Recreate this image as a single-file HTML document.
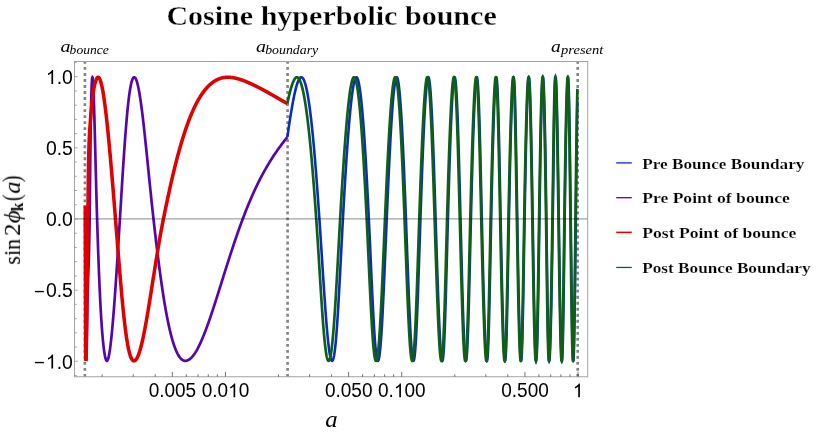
<!DOCTYPE html>
<html><head><meta charset="utf-8"><title>Cosine hyperbolic bounce</title>
<style>
html,body{margin:0;padding:0;background:#fff;}
body{width:817px;height:436px;overflow:hidden;font-family:"Liberation Sans",sans-serif;}
svg{display:block;}
text{fill:#000;}
</style></head>
<body>
<svg width="817" height="436" viewBox="0 0 817 436">
<defs><clipPath id="clipf"><rect x="74.5" y="61.5" width="513.20" height="315.25"/></clipPath></defs>
<rect width="817" height="436" fill="#ffffff"/>
<path d="M84.9,61.0V376.75" stroke="#828282" stroke-width="2.6" stroke-dasharray="2.85 3.17" fill="none"/><path d="M287.6,61.0V376.75" stroke="#828282" stroke-width="2.6" stroke-dasharray="2.85 3.17" fill="none"/><path d="M577.7,61.0V376.75" stroke="#828282" stroke-width="2.6" stroke-dasharray="2.85 3.17" fill="none"/>

<g fill="none" stroke-linejoin="miter" stroke-miterlimit="4" stroke-linecap="butt" clip-path="url(#clipf)">
<path d="M287.35,137.09L287.60,135.35L287.85,133.61L288.10,131.89L288.35,130.19L288.60,128.49L288.85,126.81L289.10,125.14L289.35,123.49L289.60,121.85L289.85,120.23L290.10,118.63L290.35,117.05L290.60,115.48L290.85,113.93L291.10,112.41L291.35,110.91L291.60,109.42L291.85,107.96L292.10,106.53L292.35,105.12L292.60,103.73L292.85,102.37L293.10,101.04L293.35,99.74L293.60,98.46L293.85,97.21L294.10,95.99L294.35,94.81L294.60,93.65L294.85,92.53L295.10,91.44L295.35,90.39L295.60,89.37L295.85,88.38L296.10,87.43L296.35,86.52L296.60,85.65L296.85,84.81L297.10,84.02L297.35,83.27L297.60,82.55L297.85,81.88L298.10,81.25L298.35,80.67L298.60,80.12L298.85,79.63L299.10,79.17L299.35,78.77L299.60,78.41L299.85,78.10L300.10,77.83L300.35,77.62L300.60,77.45L300.85,77.33L301.10,77.27L301.35,77.25L301.60,77.29L301.85,77.37L302.10,77.51L302.35,77.71L302.60,77.95L302.85,78.25L303.10,78.60L303.35,79.00L303.60,79.46L303.85,79.97L304.10,80.54L304.35,81.16L304.60,81.83L304.85,82.56L305.10,83.34L305.35,84.18L305.60,85.08L305.85,86.03L306.10,87.04L306.35,88.10L306.60,89.22L306.85,90.40L307.10,91.63L307.35,92.92L307.60,94.27L307.85,95.67L308.10,97.13L308.35,98.65L308.60,100.23L308.85,101.86L309.10,103.55L309.35,105.30L309.60,107.10L309.85,108.97L310.10,110.89L310.35,112.86L310.60,114.90L310.85,116.99L311.10,119.14L311.35,121.34L311.60,123.60L311.85,125.92L312.10,128.29L312.35,130.72L312.60,133.21L312.85,135.74L313.10,138.34L313.35,140.98L313.60,143.68L313.85,146.43L314.10,149.24L314.35,152.09L314.60,154.99L314.85,157.95L315.10,160.95L315.35,164.00L315.60,167.10L315.85,170.24L316.10,173.43L316.35,176.66L316.60,179.94L316.85,183.25L317.10,186.61L317.35,190.00L317.60,193.43L317.85,196.89L318.10,200.39L318.35,203.92L318.60,207.48L318.85,211.07L319.10,214.68L319.35,218.32L319.60,221.99L319.85,225.69L320.10,229.44L320.35,233.21L320.60,237.02L320.85,240.85L321.10,244.71L321.35,248.58L321.60,252.46L321.85,256.35L322.10,260.24L322.35,264.14L322.60,268.03L322.85,271.90L323.10,275.76L323.35,279.60L323.60,283.41L323.85,287.19L324.10,290.93L324.35,294.62L324.60,298.27L324.85,301.87L325.10,305.40L325.35,308.87L325.60,312.27L325.85,315.60L326.10,318.84L326.35,322.00L326.60,325.06L326.85,328.03L327.10,330.90L327.35,333.66L327.60,336.31L327.85,338.85L328.10,341.26L328.35,343.55L328.60,345.72L328.85,347.75L329.10,349.64L329.35,351.40L329.60,353.02L329.85,354.49L330.10,355.81L330.35,356.98L330.60,358.00L330.85,358.87L331.10,359.58L331.35,360.14L331.60,360.53L331.85,360.77L332.10,360.85L332.35,360.77L332.60,360.52L332.85,360.11L333.10,359.52L333.35,358.74L333.60,357.79L333.85,356.64L334.10,355.31L334.35,353.79L334.60,352.08L334.85,350.17L335.10,348.07L335.35,345.78L335.60,343.31L335.85,340.65L336.10,337.80L336.35,334.78L336.60,331.59L336.85,328.23L337.10,324.71L337.35,321.03L337.60,317.21L337.85,313.25L338.10,309.15L338.35,304.94L338.60,300.62L338.85,296.19L339.10,291.67L339.35,287.07L339.60,282.40L339.85,277.67L340.10,272.88L340.35,268.06L340.60,263.21L340.85,258.34L341.10,253.46L341.35,248.59L341.60,243.73L341.85,238.89L342.10,234.09L342.35,229.33L342.60,224.62L342.85,219.97L343.10,215.38L343.35,210.84L343.60,206.34L343.85,201.89L344.10,197.50L344.35,193.16L344.60,188.88L344.85,184.66L345.10,180.51L345.35,176.41L345.60,172.39L345.85,168.43L346.10,164.54L346.35,160.71L346.60,156.96L346.85,153.29L347.10,149.68L347.35,146.15L347.60,142.70L347.85,139.32L348.10,136.02L348.35,132.80L348.60,129.66L348.85,126.59L349.10,123.61L349.35,120.71L349.60,117.89L349.85,115.15L350.10,112.50L350.35,109.94L350.60,107.45L350.85,105.06L351.10,102.76L351.35,100.54L351.60,98.41L351.85,96.38L352.10,94.44L352.35,92.59L352.60,90.84L352.85,89.18L353.10,87.62L353.35,86.17L353.60,84.82L353.85,83.57L354.10,82.42L354.35,81.39L354.60,80.46L354.85,79.65L355.10,78.95L355.35,78.37L355.60,77.90L355.85,77.56L356.10,77.34L356.35,77.25L356.60,77.29L356.85,77.46L357.10,77.76L357.35,78.18L357.60,78.73L357.85,79.40L358.10,80.19L358.35,81.11L358.60,82.15L358.85,83.31L359.10,84.59L359.35,85.98L359.60,87.50L359.85,89.13L360.10,90.88L360.35,92.74L360.60,94.72L360.85,96.81L361.10,99.02L361.35,101.34L361.60,103.77L361.85,106.32L362.10,108.97L362.35,111.74L362.60,114.62L362.85,117.61L363.10,120.71L363.35,123.92L363.60,127.23L363.85,130.66L364.10,134.19L364.35,137.82L364.60,141.57L364.85,145.41L365.10,149.36L365.35,153.40L365.60,157.55L365.85,161.79L366.10,166.13L366.35,170.56L366.60,175.09L366.85,179.70L367.10,184.40L367.35,189.18L367.60,194.04L367.85,198.97L368.10,203.98L368.35,209.05L368.60,214.19L368.85,219.38L369.10,224.65L369.35,230.00L369.60,235.42L369.85,240.90L370.10,246.42L370.35,251.98L370.60,257.55L370.85,263.12L371.10,268.68L371.35,274.21L371.60,279.70L371.85,285.12L372.10,290.47L372.35,295.72L372.60,300.87L372.85,305.89L373.10,310.76L373.35,315.48L373.60,320.03L373.85,324.40L374.10,328.56L374.35,332.52L374.60,336.25L374.85,339.74L375.10,342.99L375.35,345.99L375.60,348.73L375.85,351.19L376.10,353.39L376.35,355.30L376.60,356.93L376.85,358.28L377.10,359.34L377.35,360.12L377.60,360.62L377.85,360.84L378.10,360.78L378.35,360.45L378.60,359.83L378.85,358.94L379.10,357.75L379.35,356.29L379.60,354.54L379.85,352.51L380.10,350.20L380.35,347.61L380.60,344.76L380.85,341.64L381.10,338.26L381.35,334.63L381.60,330.76L381.85,326.65L382.10,322.33L382.35,317.79L382.60,313.06L382.85,308.13L383.10,303.04L383.35,297.79L383.60,292.39L383.85,286.86L384.10,281.22L384.35,275.47L384.60,269.64L384.85,263.74L385.10,257.78L385.35,251.78L385.60,245.76L385.85,239.73L386.10,233.70L386.35,227.69L386.60,221.71L386.85,215.78L387.10,209.90L387.35,204.09L387.60,198.34L387.85,192.66L388.10,187.06L388.35,181.55L388.60,176.14L388.85,170.82L389.10,165.60L389.35,160.49L389.60,155.50L389.85,150.62L390.10,145.86L390.35,141.22L390.60,136.72L390.85,132.34L391.10,128.11L391.35,124.01L391.60,120.06L391.85,116.25L392.10,112.60L392.35,109.10L392.60,105.76L392.85,102.59L393.10,99.58L393.35,96.74L393.60,94.07L393.85,91.59L394.10,89.28L394.35,87.16L394.60,85.24L394.85,83.51L395.10,81.98L395.35,80.65L395.60,79.54L395.85,78.64L396.10,77.96L396.35,77.50L396.60,77.28L396.85,77.28L397.10,77.53L397.35,78.01L397.60,78.72L397.85,79.67L398.10,80.85L398.35,82.25L398.60,83.89L398.85,85.75L399.10,87.84L399.35,90.15L399.60,92.68L399.85,95.43L400.10,98.40L400.35,101.58L400.60,104.97L400.85,108.56L401.10,112.37L401.35,116.37L401.60,120.57L401.85,124.96L402.10,129.54L402.35,134.31L402.60,139.25L402.85,144.37L403.10,149.65L403.35,155.10L403.60,160.71L403.85,166.46L404.10,172.35L404.35,178.38L404.60,184.53L404.85,190.80L405.10,197.17L405.35,203.64L405.60,210.19L405.85,216.81L406.10,223.49L406.35,230.24L406.60,237.04L406.85,243.86L407.10,250.69L407.35,257.50L407.60,264.28L407.85,271.00L408.10,277.63L408.35,284.16L408.60,290.56L408.85,296.81L409.10,302.89L409.35,308.77L409.60,314.43L409.85,319.85L410.10,325.01L410.35,329.88L410.60,334.46L410.85,338.72L411.10,342.64L411.35,346.21L411.60,349.42L411.85,352.25L412.10,354.69L412.35,356.74L412.60,358.37L412.85,359.60L413.10,360.41L413.35,360.81L413.60,360.79L413.85,360.34L414.10,359.46L414.35,358.14L414.60,356.37L414.85,354.15L415.10,351.49L415.35,348.38L415.60,344.83L415.85,340.86L416.10,336.47L416.35,331.69L416.60,326.52L416.85,320.99L417.10,315.12L417.35,308.95L417.60,302.48L417.85,295.76L418.10,288.81L418.35,281.67L418.60,274.36L418.85,266.93L419.10,259.39L419.35,251.79L419.60,244.15L419.85,236.51L420.10,228.90L420.35,221.35L420.60,213.88L420.85,206.50L421.10,199.22L421.35,192.06L421.60,185.04L421.85,178.15L422.10,171.42L422.35,164.85L422.60,158.45L422.85,152.24L423.10,146.21L423.35,140.39L423.60,134.76L423.85,129.35L424.10,124.16L424.35,119.20L424.60,114.48L424.85,109.99L425.10,105.76L425.35,101.78L425.60,98.07L425.85,94.63L426.10,91.48L426.35,88.61L426.60,86.04L426.85,83.78L427.10,81.84L427.35,80.23L427.60,78.95L427.85,78.02L428.10,77.45L428.35,77.25L428.60,77.43L428.85,77.99L429.10,78.93L429.35,80.26L429.60,81.98L429.85,84.09L430.10,86.58L430.35,89.45L430.60,92.69L430.85,96.31L431.10,100.29L431.35,104.62L431.60,109.30L431.85,114.31L432.10,119.64L432.35,125.29L432.60,131.22L432.85,137.44L433.10,143.92L433.35,150.64L433.60,157.59L433.85,164.75L434.10,172.09L434.35,179.59L434.60,187.24L434.85,195.00L435.10,202.86L435.35,210.79L435.60,218.76L435.85,226.75L436.10,234.70L436.35,242.60L436.60,250.43L436.85,258.16L437.10,265.79L437.35,273.27L437.60,280.60L437.85,287.74L438.10,294.69L438.35,301.42L438.60,307.90L438.85,314.11L439.10,320.04L439.35,325.66L439.60,330.94L439.85,335.87L440.10,340.43L440.35,344.58L440.60,348.31L440.85,351.60L441.10,354.43L441.35,356.77L441.60,358.60L441.85,359.90L442.10,360.65L442.35,360.84L442.60,360.44L442.85,359.41L443.10,357.71L443.35,355.33L443.60,352.25L443.85,348.47L444.10,343.98L444.35,338.81L444.60,332.97L444.85,326.50L445.10,319.44L445.35,311.85L445.60,303.78L445.85,295.29L446.10,286.46L446.35,277.35L446.60,268.04L446.85,258.61L447.10,249.13L447.35,239.67L447.60,230.31L447.85,221.11L448.10,212.10L448.35,203.28L448.60,194.66L448.85,186.26L449.10,178.09L449.35,170.16L449.60,162.50L449.85,155.10L450.10,147.97L450.35,141.13L450.60,134.58L450.85,128.33L451.10,122.38L451.35,116.74L451.60,111.43L451.85,106.45L452.10,101.80L452.35,97.51L452.60,93.58L452.85,90.03L453.10,86.88L453.35,84.13L453.60,81.81L453.85,79.94L454.10,78.55L454.35,77.64L454.60,77.26L454.85,77.43L455.10,78.15L455.35,79.45L455.60,81.34L455.85,83.81L456.10,86.87L456.35,90.51L456.60,94.73L456.85,99.52L457.10,104.87L457.35,110.76L457.60,117.17L457.85,124.07L458.10,131.44L458.35,139.25L458.60,147.46L458.85,156.03L459.10,164.93L459.35,174.10L459.60,183.52L459.85,193.12L460.10,202.87L460.35,212.71L460.60,222.59L460.85,232.49L461.10,242.35L461.35,252.14L461.60,261.80L461.85,271.28L462.10,280.52L462.35,289.49L462.60,298.13L462.85,306.39L463.10,314.23L463.35,321.60L463.60,328.45L463.85,334.74L464.10,340.44L464.35,345.50L464.60,349.89L464.85,353.58L465.10,356.54L465.35,358.75L465.60,360.18L465.85,360.82L466.10,360.65L466.35,359.64L466.60,357.78L466.85,355.04L467.10,351.42L467.35,346.93L467.60,341.59L467.85,335.43L468.10,328.49L468.35,320.83L468.60,312.52L468.85,303.63L469.10,294.23L469.35,284.42L469.60,274.28L469.85,263.91L470.10,253.40L470.35,242.83L470.60,232.30L470.85,221.89L471.10,211.67L471.35,201.68L471.60,191.95L471.85,182.49L472.10,173.33L472.35,164.49L472.60,155.99L472.85,147.84L473.10,140.04L473.35,132.62L473.60,125.59L473.85,118.95L474.10,112.73L474.35,106.93L474.60,101.58L474.85,96.69L475.10,92.28L475.35,88.38L475.53,85.85L475.63,84.67L475.72,83.58L475.81,82.58L475.91,81.66L476.00,80.82L476.09,80.08L476.18,79.42L476.27,78.84L476.36,78.36L476.45,77.96L476.54,77.65L476.62,77.43L476.71,77.29L476.80,77.25L476.89,77.29L476.97,77.43L477.06,77.65L477.14,77.96L477.23,78.36L477.31,78.84L477.39,79.42L477.48,80.08L477.56,80.82L477.64,81.66L477.72,82.58L477.81,83.58L477.89,84.67L477.97,85.85L478.10,87.92L478.35,92.51L478.60,97.91L478.85,104.10L479.10,111.04L479.35,118.71L479.60,127.03L479.85,135.96L480.10,145.43L480.35,155.37L480.60,165.69L480.85,176.32L481.10,187.17L481.35,198.16L481.60,209.20L481.85,220.20L482.10,231.09L482.35,241.80L482.60,252.29L482.85,262.52L483.10,272.45L483.35,282.06L483.60,291.29L483.85,300.13L484.10,308.52L484.35,316.45L484.60,323.87L484.85,330.74L485.10,337.02L485.35,342.68L485.60,347.66L485.85,351.93L486.10,355.42L486.35,358.10L486.60,359.90L486.79,360.65L486.95,360.85L487.10,360.65L487.35,359.48L487.60,357.15L487.85,353.61L488.10,348.83L488.35,342.81L488.60,335.60L488.85,327.24L489.10,317.84L489.35,307.51L489.60,296.40L489.85,284.67L490.10,272.48L490.35,260.02L490.60,247.46L490.85,234.98L491.10,222.74L491.35,210.85L491.60,199.30L491.85,188.14L492.10,177.38L492.35,167.07L492.60,157.21L492.85,147.83L493.10,138.94L493.35,130.55L493.60,122.68L493.85,115.34L494.10,108.55L494.35,102.34L494.60,96.71L494.85,91.72L495.10,87.38L495.20,85.85L495.28,84.67L495.36,83.58L495.44,82.58L495.52,81.66L495.60,80.82L495.68,80.08L495.76,79.42L495.84,78.84L495.92,78.36L496.00,77.96L496.07,77.65L496.15,77.43L496.23,77.29L496.30,77.25L496.38,77.29L496.45,77.43L496.52,77.65L496.60,77.96L496.67,78.36L496.74,78.84L496.82,79.42L496.89,80.08L496.96,80.82L497.03,81.66L497.10,82.58L497.17,83.58L497.24,84.67L497.31,85.85L497.35,86.51L497.60,91.58L497.85,97.75L498.10,104.99L498.35,113.25L498.60,122.46L498.85,132.53L499.10,143.36L499.35,154.84L499.60,166.85L499.85,179.26L500.10,191.92L500.35,204.72L500.60,217.50L500.85,230.16L501.10,242.61L501.35,254.79L501.60,266.62L501.85,278.04L502.10,288.98L502.35,299.38L502.60,309.19L502.85,318.33L503.10,326.76L503.35,334.40L503.60,341.21L503.85,347.11L504.10,352.04L504.35,355.95L504.60,358.76L504.85,360.41L504.88,360.53L505.06,360.85L505.24,360.53L505.35,359.96L505.60,357.69L505.85,353.97L506.10,348.76L506.35,342.08L506.60,333.99L506.85,324.58L507.10,313.99L507.35,302.38L507.60,289.94L507.85,276.87L508.10,263.41L508.35,249.76L508.60,236.16L508.85,222.79L509.10,209.83L509.35,197.33L509.60,185.34L509.85,173.87L510.10,162.96L510.35,152.60L510.60,142.80L510.85,133.58L511.10,124.94L511.35,116.89L511.60,109.45L511.85,102.65L512.10,96.52L512.35,91.11L512.60,86.47L512.85,82.67L513.10,79.80L513.35,77.96L513.50,77.38L513.62,77.25L513.73,77.38L513.85,77.81L514.10,79.77L514.35,83.24L514.60,88.29L514.85,94.94L515.10,103.18L515.35,112.94L515.60,124.08L515.85,136.46L516.10,149.88L516.35,164.12L516.60,178.91L516.85,194.02L517.10,209.17L517.35,224.13L517.60,238.84L517.85,253.19L518.10,267.06L518.35,280.35L518.60,292.95L518.85,304.76L519.10,315.70L519.35,325.66L519.60,334.55L519.85,342.30L520.10,348.82L520.26,352.25L520.32,353.43L520.38,354.52L520.44,355.52L520.50,356.44L520.56,357.28L520.62,358.02L520.68,358.68L520.74,359.26L520.80,359.74L520.86,360.14L520.91,360.45L520.97,360.67L521.03,360.81L521.09,360.85L521.15,360.81L521.20,360.67L521.26,360.45L521.32,360.14L521.38,359.74L521.43,359.26L521.49,358.68L521.54,358.02L521.60,357.28L521.65,356.44L521.71,355.52L521.76,354.52L521.82,353.43L521.87,352.25L522.10,346.47L522.35,338.38L522.60,328.64L522.85,317.41L523.10,304.88L523.35,291.31L523.60,276.97L523.85,262.15L524.10,247.13L524.35,232.21L524.60,217.63L524.85,203.51L525.10,189.90L525.35,176.88L525.60,164.49L525.85,152.77L526.10,141.77L526.35,131.50L526.60,122.01L526.85,113.31L527.10,105.43L527.35,98.41L527.60,92.29L527.85,87.13L528.10,82.97L528.35,79.88L528.60,77.95L528.70,77.53L528.86,77.25L529.02,77.53L529.10,77.87L529.35,79.85L529.60,83.20L529.85,87.92L530.10,93.99L530.35,101.39L530.60,110.05L530.85,119.92L531.10,130.91L531.35,142.93L531.60,155.85L531.85,169.56L532.10,183.90L532.35,198.73L532.60,213.87L532.85,229.18L533.10,244.52L533.35,259.69L533.60,274.49L533.85,288.72L534.10,302.17L534.35,314.64L534.60,325.94L534.85,335.89L535.10,344.35L535.35,351.16L535.60,356.23L535.85,359.47L535.96,360.30L536.15,360.85L536.34,360.30L536.60,357.69L536.85,353.17L537.10,346.69L537.35,338.32L537.60,328.18L537.85,316.43L538.10,303.26L538.35,288.90L538.60,273.60L538.85,257.62L539.10,241.25L539.35,224.75L539.60,208.38L539.85,192.31L540.10,176.72L540.35,161.78L540.60,147.65L540.85,134.47L541.10,122.38L541.35,111.50L541.60,101.95L541.85,93.83L542.10,87.23L542.35,82.24L542.60,78.93L542.79,77.60L542.94,77.25L543.10,77.60L543.35,79.62L543.60,83.34L543.85,88.72L544.10,95.68L544.35,104.17L544.60,114.12L544.85,125.45L545.10,138.08L545.35,151.93L545.60,166.88L545.85,182.83L546.10,199.60L546.35,217.04L546.60,235.10L546.85,253.68L547.10,272.23L547.35,290.16L547.60,306.92L547.85,321.97L548.10,334.87L548.35,345.28L548.60,353.03L548.85,358.07L549.11,360.56L549.23,360.85L549.37,360.56L549.60,358.66L549.85,354.87L550.10,349.45L550.35,342.57L550.60,334.36L550.85,324.91L551.10,314.31L551.35,302.60L551.60,289.82L551.85,276.01L552.10,261.19L552.35,245.42L552.60,228.77L552.85,211.34L553.10,193.32L553.35,175.15L553.60,157.31L553.85,140.29L554.10,124.60L554.35,110.69L554.60,98.92L554.85,89.58L555.10,82.85L555.35,78.76L555.48,77.69L555.63,77.25L555.78,77.69L555.85,78.18L556.10,81.37L556.35,86.70L556.60,94.03L556.85,103.19L557.10,114.03L557.35,126.39L557.60,140.09L557.85,154.97L558.10,170.83L558.35,187.48L558.60,204.73L558.85,222.35L559.10,239.89L559.35,257.04L559.60,273.57L559.85,289.26L560.10,303.90L560.35,317.30L560.60,329.26L560.85,339.57L561.10,348.06L561.35,354.54L561.60,358.82L561.80,360.54L561.92,360.85L562.04,360.54L562.10,360.17L562.35,356.86L562.60,350.68L562.85,341.60L563.10,329.79L563.35,315.53L563.60,299.24L563.85,281.43L564.10,262.67L564.35,243.57L564.60,224.69L564.85,206.51L565.10,189.20L565.35,172.87L565.60,157.60L565.85,143.45L566.10,130.45L566.35,118.64L566.60,108.09L566.85,98.86L567.10,91.05L567.35,84.80L567.60,80.30L567.85,77.74L567.92,77.41L568.01,77.25L568.10,77.41L568.35,79.52L568.60,84.29L568.85,91.79L569.10,102.01L569.35,114.84L569.60,130.05L569.85,147.34L570.10,166.30L570.35,186.47L570.60,207.34L570.85,228.40L571.10,249.39L571.35,269.85L571.60,289.29L571.85,307.21L572.10,323.15L572.35,336.70L572.60,347.48L572.74,352.25L572.78,353.43L572.82,354.52L572.86,355.52L572.90,356.44L572.94,357.28L572.98,358.02L573.02,358.68L573.06,359.26L573.10,359.74L573.14,360.14L573.19,360.45L573.23,360.67L573.27,360.81L573.31,360.85L573.35,360.81L573.39,360.67L573.43,360.45L573.47,360.14L573.51,359.74L573.55,359.26L573.59,358.68L573.63,358.02L573.67,357.28L573.71,356.44L573.75,355.52L573.79,354.52L573.83,353.43L573.87,352.25L574.10,343.65L574.35,331.44L574.60,316.41L574.85,298.95L575.10,279.52L575.35,258.66L575.60,236.94L575.85,214.91L576.10,193.10L576.35,171.98L576.60,152.05L576.85,133.75L577.10,117.50L577.35,103.65L577.40,101.19" stroke="#082cc4" stroke-width="2.6"/>
<path d="M86.30,360.85L86.40,360.09L86.50,357.85L86.60,354.29L86.70,349.58L86.80,343.93L86.90,337.59L87.00,330.84L87.10,323.93L87.20,317.13L87.30,310.70L87.40,304.88L87.50,299.88L87.60,295.55L87.70,291.58L87.80,287.96L87.90,284.64L88.00,281.58L88.10,278.72L88.20,276.01L88.30,273.39L88.40,270.81L88.50,268.20L88.60,265.48L88.70,262.61L88.80,259.50L88.90,256.09L89.00,252.30L89.10,248.11L89.20,243.69L89.30,238.99L89.40,233.92L89.50,228.39L89.60,222.32L89.70,215.49L89.80,207.29L89.90,197.99L90.00,188.04L90.10,177.87L90.20,167.94L90.30,158.62L90.40,150.28L90.50,142.77L90.60,135.75L90.70,129.20L90.80,123.10L90.90,117.42L91.00,112.07L91.10,107.05L91.20,102.39L91.30,98.12L91.40,94.24L91.50,90.78L91.60,87.72L91.70,85.09L91.80,82.86L91.90,81.04L92.00,79.60L92.10,78.53L92.20,77.80L92.30,77.38L92.40,77.25L92.50,77.37L92.60,77.75L92.70,78.36L92.80,79.20L92.90,80.27L93.00,81.56L93.10,83.07L93.20,84.78L93.30,86.68L93.40,88.78L93.50,91.05L93.60,93.49L93.70,96.10L93.80,98.86L93.90,101.76L94.00,104.79L94.10,107.95L94.20,111.23L94.30,114.61L94.40,118.09L94.50,121.65L94.60,125.29L94.70,129.01L94.80,132.78L94.90,136.60L95.00,140.47L95.10,144.37L95.20,148.29L95.30,152.24L95.40,156.19L95.50,160.15L95.60,164.11L95.70,168.06L95.80,171.98L95.90,175.89L96.00,179.76L96.10,183.60L96.20,187.41L96.30,191.16L96.40,194.86L96.50,198.51L96.60,202.11L96.70,205.63L96.80,209.10L96.90,212.49L97.00,215.81L97.10,219.05L97.20,222.24L97.30,225.39L97.40,228.51L97.50,231.60L97.60,234.65L97.70,237.66L97.80,240.64L97.90,243.58L98.00,246.48L98.10,249.34L98.20,252.15L98.30,254.93L98.40,257.67L98.50,260.37L98.60,263.02L98.70,265.64L98.80,268.21L98.90,270.74L99.00,273.23L99.10,275.68L99.20,278.08L99.30,280.45L99.40,282.77L99.50,285.05L99.60,287.29L99.70,289.49L99.80,291.65L99.90,293.77L100.00,295.85L100.10,297.88L100.20,299.88L100.30,301.84L100.40,303.76L100.50,305.64L100.60,307.48L100.70,309.28L100.80,311.05L100.90,312.78L101.00,314.47L101.10,316.13L101.20,317.74L101.30,319.33L101.40,320.88L101.50,322.39L101.60,323.87L101.70,325.31L101.80,326.72L101.90,328.10L102.00,329.45L102.10,330.76L102.20,332.04L102.30,333.29L102.40,334.50L102.50,335.69L102.60,336.84L102.70,337.97L102.80,339.06L102.90,340.13L103.00,341.16L103.10,342.17L103.20,343.15L103.30,344.10L103.40,345.02L103.50,345.92L103.60,346.78L103.70,347.62L103.80,348.44L103.90,349.22L104.00,349.98L104.10,350.71L104.20,351.42L104.30,352.10L104.40,352.75L104.50,353.38L104.60,353.98L104.70,354.56L104.80,355.11L104.90,355.64L105.00,356.14L105.10,356.62L105.20,357.07L105.30,357.50L105.40,357.90L105.50,358.27L105.60,358.62L105.70,358.95L105.80,359.25L105.90,359.52L106.00,359.77L106.10,360.00L106.20,360.20L106.30,360.37L106.40,360.51L106.50,360.63L106.60,360.73L106.70,360.80L106.80,360.84L106.90,360.85L107.00,360.84L107.10,360.80L107.20,360.73L107.30,360.63L107.40,360.51L107.50,360.37L107.60,360.20L107.70,360.00L107.80,359.78L107.90,359.53L108.00,359.26L108.10,358.97L108.20,358.65L108.30,358.30L108.40,357.94L108.50,357.55L108.60,357.13L108.70,356.70L108.80,356.24L108.90,355.76L109.00,355.26L109.10,354.74L109.20,354.19L109.30,353.63L109.40,353.04L109.50,352.43L109.60,351.81L109.70,351.16L109.80,350.49L109.90,349.81L110.00,349.10L110.10,348.38L110.20,347.64L110.30,346.88L110.40,346.10L110.50,345.30L110.60,344.49L110.70,343.65L110.80,342.80L110.90,341.94L111.00,341.05L111.10,340.15L111.20,339.24L111.30,338.31L111.40,337.36L111.50,336.39L111.60,335.42L111.70,334.42L111.80,333.41L111.90,332.39L112.00,331.35L112.10,330.30L112.20,329.23L112.30,328.15L112.40,327.06L112.50,325.95L112.60,324.83L112.70,323.69L112.80,322.55L112.90,321.39L113.00,320.22L113.10,319.03L113.20,317.84L113.30,316.63L113.40,315.41L113.50,314.18L113.60,312.94L113.70,311.68L113.80,310.42L113.90,309.14L114.00,307.86L114.10,306.56L114.20,305.26L114.30,303.94L114.40,302.61L114.50,301.28L114.60,299.93L114.70,298.58L114.80,297.21L114.90,295.84L115.00,294.46L115.10,293.07L115.20,291.67L115.30,290.26L115.40,288.85L115.50,287.42L115.60,285.99L115.70,284.55L115.80,283.10L115.90,281.65L116.00,280.19L116.10,278.72L116.20,277.24L116.30,275.76L116.40,274.27L116.50,272.77L116.60,271.27L116.70,269.76L116.80,268.25L116.90,266.73L117.00,265.20L117.10,263.67L117.20,262.13L117.30,260.59L117.40,259.04L117.50,257.49L117.60,255.93L117.70,254.36L117.80,252.80L117.90,251.22L118.00,249.65L118.10,248.07L118.20,246.48L118.30,244.89L118.40,243.30L118.50,241.70L118.60,240.10L118.70,238.50L118.80,236.89L118.90,235.28L119.00,233.67L119.10,232.06L119.20,230.44L119.30,228.82L119.40,227.19L119.50,225.57L119.60,223.94L119.70,222.31L119.80,220.68L119.90,219.05L120.00,217.42L120.10,215.78L120.20,214.15L120.30,212.51L120.40,210.88L120.50,209.24L120.60,207.61L120.70,205.98L120.80,204.34L120.90,202.71L121.00,201.08L121.10,199.46L121.20,197.83L121.30,196.21L121.40,194.59L121.50,192.97L121.60,191.36L121.70,189.75L121.80,188.14L121.90,186.54L122.00,184.94L122.10,183.35L122.20,181.76L122.30,180.17L122.40,178.60L122.50,177.02L122.60,175.45L122.70,173.89L122.80,172.34L122.90,170.79L123.00,169.25L123.10,167.71L123.20,166.18L123.30,164.66L123.40,163.15L123.50,161.65L123.60,160.15L123.70,158.66L123.80,157.18L123.90,155.71L124.00,154.25L124.10,152.80L124.20,151.36L124.30,149.92L124.40,148.50L124.50,147.09L124.60,145.69L124.70,144.30L124.80,142.92L124.90,141.55L125.00,140.19L125.10,138.84L125.20,137.50L125.30,136.18L125.40,134.87L125.50,133.57L125.60,132.28L125.70,131.01L125.80,129.74L125.90,128.49L126.00,127.26L126.10,126.03L126.20,124.82L126.30,123.63L126.40,122.45L126.50,121.28L126.60,120.12L126.70,118.98L126.80,117.85L126.90,116.74L127.00,115.64L127.10,114.56L127.20,113.49L127.30,112.43L127.40,111.39L127.50,110.37L127.60,109.36L127.70,108.36L127.80,107.38L127.90,106.42L128.00,105.47L128.10,104.53L128.20,103.61L128.30,102.71L128.40,101.83L128.50,100.95L128.60,100.10L128.70,99.26L128.80,98.44L128.90,97.63L129.00,96.84L129.10,96.06L129.20,95.30L129.30,94.56L129.40,93.83L129.50,93.12L129.60,92.42L129.70,91.74L129.80,91.08L129.90,90.43L130.00,89.80L130.10,89.19L130.20,88.59L130.30,88.01L130.40,87.44L130.50,86.89L130.60,86.35L130.70,85.84L130.80,85.33L130.90,84.85L131.00,84.38L131.10,83.92L131.20,83.48L131.30,83.06L131.40,82.65L131.50,82.26L131.60,81.88L131.70,81.52L131.80,81.18L131.90,80.84L132.00,80.53L132.10,80.23L132.20,79.94L132.30,79.67L132.40,79.42L132.50,79.18L132.60,78.95L132.70,78.74L132.80,78.55L132.90,78.36L133.00,78.20L133.10,78.04L133.20,77.90L133.30,77.78L133.40,77.66L133.50,77.57L133.60,77.48L133.70,77.41L133.80,77.35L133.90,77.31L134.00,77.28L134.10,77.26L134.20,77.25L134.30,77.26L134.40,77.28L134.50,77.31L134.60,77.35L134.70,77.41L134.80,77.48L134.90,77.56L135.00,77.65L135.10,77.76L135.20,77.87L135.30,78.00L135.40,78.15L135.50,78.30L135.60,78.47L135.70,78.65L135.80,78.84L135.90,79.04L136.00,79.25L136.10,79.48L136.20,79.72L136.30,79.97L136.40,80.23L136.50,80.50L136.60,80.79L136.70,81.08L136.80,81.39L136.90,81.71L137.00,82.04L137.10,82.38L137.20,82.73L137.30,83.09L137.40,83.47L137.50,83.85L137.60,84.25L137.70,84.65L137.80,85.07L137.90,85.50L138.00,85.94L138.10,86.39L138.20,86.85L138.30,87.32L138.40,87.80L138.50,88.29L138.60,88.79L138.70,89.30L138.80,89.81L138.90,90.34L139.00,90.88L139.10,91.43L139.20,91.99L139.30,92.56L139.40,93.13L139.50,93.72L139.60,94.32L139.70,94.92L139.80,95.53L139.90,96.16L140.00,96.79L140.10,97.43L140.20,98.07L140.30,98.73L140.40,99.39L140.50,100.07L140.60,100.75L140.70,101.44L140.80,102.14L140.90,102.84L141.00,103.55L141.10,104.27L141.20,105.00L141.30,105.74L141.40,106.48L141.50,107.23L141.60,107.99L141.70,108.75L141.80,109.52L141.90,110.30L142.00,111.08L142.10,111.88L142.20,112.67L142.30,113.48L142.40,114.29L142.50,115.10L142.60,115.93L142.70,116.76L142.80,117.59L142.90,118.43L143.00,119.28L143.10,120.13L143.20,120.98L143.30,121.84L143.40,122.71L143.50,123.58L143.60,124.46L143.70,125.34L143.80,126.23L143.90,127.12L144.00,128.02L144.10,128.92L144.20,129.82L144.30,130.73L144.40,131.64L144.50,132.56L144.60,133.48L144.70,134.41L144.80,135.33L144.90,136.27L145.00,137.20L145.10,138.14L145.20,139.08L145.30,140.03L145.40,140.97L145.50,141.93L145.60,142.88L145.70,143.84L145.80,144.79L145.90,145.76L146.00,146.72L146.10,147.69L146.20,148.65L146.30,149.63L146.40,150.60L146.50,151.57L146.60,152.55L146.70,153.53L146.80,154.51L146.90,155.49L147.00,156.47L147.10,157.45L147.20,158.44L147.30,159.42L147.40,160.41L147.50,161.40L147.60,162.39L147.70,163.37L147.80,164.36L147.90,165.35L148.00,166.35L148.10,167.34L148.20,168.33L148.30,169.32L148.40,170.31L148.50,171.30L148.60,172.29L148.70,173.28L148.80,174.28L148.90,175.27L149.00,176.26L149.10,177.25L149.20,178.23L149.30,179.22L149.40,180.21L149.50,181.20L149.60,182.18L149.70,183.16L149.80,184.15L149.90,185.13L150.00,186.11L150.10,187.09L150.20,188.07L150.30,189.04L150.40,190.02L150.50,190.99L150.60,191.96L150.70,192.93L150.80,193.90L150.90,194.86L151.00,195.83L151.10,196.79L151.20,197.75L151.30,198.70L151.40,199.66L151.50,200.61L151.60,201.56L151.70,202.51L151.80,203.45L151.90,204.39L152.00,205.33L152.10,206.27L152.20,207.20L152.30,208.13L152.40,209.06L152.50,209.98L152.60,210.90L152.70,211.82L152.80,212.74L152.90,213.65L153.00,214.56L153.10,215.46L153.20,216.37L153.30,217.26L153.40,218.16L153.50,219.05L153.60,219.94L153.70,220.83L153.80,221.71L153.90,222.60L154.00,223.48L154.10,224.36L154.20,225.24L154.30,226.12L154.40,226.99L154.50,227.87L154.60,228.74L154.70,229.61L154.80,230.48L154.90,231.34L155.00,232.21L155.10,233.07L155.20,233.93L155.30,234.79L155.40,235.65L155.50,236.51L155.60,237.36L155.70,238.21L155.80,239.06L155.90,239.91L156.00,240.75L156.10,241.59L156.20,242.43L156.30,243.27L156.40,244.11L156.50,244.94L156.60,245.77L156.70,246.60L156.80,247.43L156.90,248.25L157.00,249.07L157.10,249.89L157.20,250.71L157.30,251.52L157.40,252.34L157.50,253.15L157.60,253.95L157.70,254.76L157.80,255.56L157.90,256.36L158.00,257.16L158.10,257.95L158.20,258.74L158.30,259.53L158.40,260.32L158.50,261.10L158.60,261.88L158.70,262.66L158.80,263.44L158.90,264.21L159.00,264.98L159.10,265.75L159.20,266.51L159.30,267.27L159.40,268.03L159.50,268.79L159.60,269.54L159.70,270.29L159.80,271.04L159.90,271.79L160.00,272.53L160.10,273.27L160.20,274.00L160.30,274.74L160.40,275.47L160.50,276.19L160.60,276.92L160.70,277.64L160.80,278.36L160.90,279.07L161.00,279.79L161.10,280.50L161.20,281.20L161.30,281.90L161.40,282.61L161.50,283.30L161.60,284.00L161.70,284.69L161.80,285.38L161.90,286.06L162.00,286.74L162.10,287.42L162.20,288.10L162.30,288.77L162.40,289.44L162.50,290.10L162.60,290.77L162.70,291.43L162.80,292.08L162.90,292.74L163.00,293.39L163.10,294.03L163.20,294.68L163.30,295.32L163.40,295.96L163.50,296.59L163.60,297.22L163.70,297.85L163.80,298.47L163.90,299.10L164.00,299.71L164.10,300.33L164.20,300.94L164.30,301.55L164.40,302.16L164.50,302.76L164.60,303.36L164.70,303.95L164.80,304.54L164.90,305.13L165.00,305.72L165.10,306.30L165.20,306.88L165.30,307.46L165.40,308.03L165.50,308.60L165.60,309.16L165.70,309.73L165.80,310.29L165.90,310.84L166.00,311.40L166.10,311.95L166.20,312.49L166.30,313.03L166.40,313.57L166.50,314.11L166.60,314.64L166.70,315.17L166.80,315.70L166.90,316.22L167.00,316.74L167.10,317.26L167.20,317.77L167.30,318.28L167.40,318.79L167.50,319.29L167.60,319.79L167.70,320.29L167.80,320.79L167.90,321.28L168.00,321.76L168.10,322.25L168.20,322.73L168.30,323.20L168.40,323.68L168.50,324.15L168.60,324.62L168.70,325.08L168.80,325.54L168.90,326.00L169.00,326.45L169.10,326.91L169.20,327.35L169.30,327.80L169.40,328.24L169.50,328.68L169.60,329.11L169.70,329.54L169.80,329.97L169.90,330.40L170.00,330.82L170.10,331.24L170.20,331.65L170.30,332.07L170.40,332.48L170.50,332.88L170.60,333.28L170.70,333.68L170.80,334.08L170.90,334.47L171.00,334.86L171.10,335.25L171.20,335.63L171.30,336.01L171.40,336.39L171.50,336.76L171.60,337.13L171.70,337.50L171.80,337.87L171.90,338.23L172.00,338.59L172.10,338.94L172.20,339.29L172.30,339.64L172.40,339.99L172.50,340.33L172.60,340.67L172.70,341.01L172.80,341.34L172.90,341.67L173.00,342.00L173.10,342.32L173.20,342.64L173.30,342.96L173.40,343.27L173.50,343.58L173.60,343.89L173.70,344.20L173.80,344.50L173.90,344.80L174.00,345.10L174.10,345.39L174.20,345.68L174.30,345.97L174.40,346.25L174.50,346.53L174.60,346.81L174.70,347.09L174.80,347.36L174.90,347.63L175.00,347.90L175.10,348.16L175.20,348.42L175.30,348.68L175.40,348.93L175.50,349.18L175.60,349.43L175.70,349.68L175.80,349.92L175.90,350.16L176.00,350.40L176.10,350.63L176.20,350.87L176.30,351.09L176.40,351.32L176.50,351.54L176.60,351.76L176.70,351.98L176.80,352.19L176.90,352.41L177.00,352.61L177.10,352.82L177.20,353.02L177.30,353.22L177.40,353.42L177.50,353.62L177.60,353.81L177.70,354.00L177.80,354.18L177.90,354.37L178.00,354.55L178.10,354.73L178.20,354.90L178.30,355.07L178.40,355.24L178.50,355.41L178.60,355.58L178.70,355.74L178.80,355.90L178.90,356.05L179.00,356.21L179.10,356.36L179.20,356.51L179.30,356.65L179.40,356.80L179.50,356.94L179.60,357.07L179.70,357.21L179.80,357.34L179.90,357.47L180.00,357.60L180.10,357.73L180.20,357.85L180.30,357.97L180.40,358.08L180.50,358.20L180.60,358.31L180.70,358.42L180.80,358.53L180.90,358.63L181.00,358.73L181.10,358.83L181.20,358.93L181.30,359.03L181.40,359.12L181.50,359.21L181.60,359.29L181.70,359.38L181.80,359.46L181.90,359.54L182.00,359.62L182.10,359.69L182.20,359.77L182.30,359.84L182.40,359.90L182.50,359.97L182.60,360.03L182.70,360.09L182.80,360.15L182.90,360.20L183.00,360.26L183.10,360.31L183.20,360.36L183.30,360.40L183.40,360.45L183.50,360.49L183.60,360.53L183.70,360.57L183.80,360.60L183.90,360.63L184.00,360.66L184.10,360.69L184.20,360.72L184.30,360.74L184.40,360.76L184.50,360.78L184.60,360.80L184.70,360.81L184.80,360.82L184.90,360.83L185.00,360.84L185.10,360.85L185.20,360.85L185.30,360.85L185.40,360.85L185.50,360.85L185.60,360.84L185.70,360.83L185.80,360.82L185.90,360.81L186.00,360.80L186.10,360.78L186.20,360.77L186.30,360.75L186.40,360.73L186.50,360.71L186.60,360.68L186.70,360.66L186.80,360.63L186.90,360.60L187.00,360.57L187.10,360.54L187.20,360.50L187.30,360.47L187.40,360.43L187.50,360.39L187.60,360.35L187.70,360.31L187.80,360.27L187.90,360.22L188.00,360.17L188.10,360.13L188.20,360.08L188.30,360.03L188.40,359.97L188.50,359.92L188.60,359.87L188.70,359.81L188.80,359.75L188.90,359.69L189.00,359.63L189.10,359.57L189.20,359.50L189.30,359.44L189.40,359.37L189.50,359.30L189.60,359.23L189.70,359.16L189.80,359.09L189.90,359.01L190.00,358.94L190.10,358.86L190.20,358.78L190.30,358.70L190.40,358.61L190.50,358.53L190.60,358.44L190.70,358.35L190.80,358.26L190.90,358.17L191.00,358.08L191.10,357.98L191.20,357.88L191.30,357.79L191.40,357.69L191.50,357.58L191.60,357.48L191.70,357.38L191.80,357.27L191.90,357.16L192.00,357.05L192.10,356.94L192.20,356.83L192.30,356.71L192.40,356.60L192.50,356.48L192.60,356.36L192.70,356.24L192.80,356.12L192.90,356.00L193.00,355.88L193.10,355.75L193.20,355.62L193.30,355.49L193.40,355.36L193.50,355.23L193.60,355.10L193.70,354.97L193.80,354.83L193.90,354.69L194.00,354.56L194.10,354.42L194.20,354.27L194.30,354.13L194.40,353.99L194.50,353.84L194.60,353.70L194.70,353.55L194.80,353.40L194.90,353.25L195.00,353.09L195.10,352.94L195.20,352.79L195.30,352.63L195.40,352.47L195.50,352.31L195.60,352.15L195.70,351.99L195.80,351.83L195.90,351.67L196.00,351.50L196.10,351.33L196.20,351.17L196.30,351.00L196.40,350.83L196.50,350.66L196.60,350.48L196.70,350.31L196.80,350.13L196.90,349.96L197.00,349.78L197.10,349.60L197.20,349.42L197.30,349.24L197.40,349.06L197.50,348.87L197.60,348.69L197.70,348.50L197.80,348.31L197.90,348.13L198.00,347.94L198.10,347.74L198.20,347.55L198.30,347.36L198.40,347.16L198.50,346.97L198.60,346.77L198.70,346.57L198.80,346.37L198.90,346.17L199.00,345.97L199.10,345.77L199.20,345.57L199.30,345.36L199.40,345.16L199.50,344.95L199.60,344.74L199.70,344.53L199.80,344.32L199.90,344.11L200.00,343.90L200.10,343.68L200.20,343.47L200.30,343.25L200.40,343.04L200.50,342.82L200.60,342.60L200.70,342.38L200.80,342.16L200.90,341.94L201.00,341.72L201.10,341.49L201.20,341.27L201.30,341.04L201.40,340.81L201.50,340.59L201.60,340.36L201.70,340.13L201.80,339.90L201.90,339.67L202.00,339.43L202.10,339.20L202.20,338.97L202.30,338.73L202.40,338.50L202.50,338.26L202.60,338.02L202.70,337.78L202.80,337.54L202.90,337.30L203.00,337.06L203.10,336.82L203.20,336.57L203.30,336.33L203.40,336.09L203.50,335.84L203.60,335.59L203.70,335.34L203.80,335.10L203.90,334.85L204.00,334.60L204.10,334.35L204.20,334.09L204.30,333.84L204.40,333.59L204.50,333.33L204.60,333.08L204.70,332.82L204.80,332.56L204.90,332.31L205.00,332.05L205.10,331.79L205.20,331.53L205.30,331.27L205.40,331.00L205.50,330.74L205.60,330.48L205.70,330.22L205.80,329.95L205.90,329.69L206.00,329.42L206.10,329.15L206.20,328.88L206.30,328.62L206.40,328.35L206.50,328.08L206.60,327.81L206.70,327.54L206.80,327.26L206.90,326.99L207.00,326.72L207.10,326.44L207.20,326.17L207.30,325.89L207.40,325.62L207.50,325.34L207.60,325.07L207.70,324.79L207.80,324.51L207.90,324.23L208.00,323.95L208.10,323.67L208.20,323.39L208.30,323.11L208.40,322.83L208.50,322.54L208.60,322.26L208.70,321.98L208.80,321.69L208.90,321.41L209.00,321.12L209.10,320.84L209.20,320.55L209.30,320.27L209.40,319.98L209.50,319.69L209.60,319.40L209.70,319.11L209.80,318.82L209.90,318.53L210.00,318.24L210.10,317.95L210.20,317.66L210.30,317.37L210.40,317.07L210.50,316.78L210.60,316.49L210.70,316.19L210.80,315.90L210.90,315.60L211.00,315.31L211.10,315.01L211.20,314.71L211.30,314.42L211.40,314.12L211.50,313.82L211.60,313.52L211.70,313.22L211.80,312.92L211.90,312.62L212.00,312.32L212.10,312.02L212.20,311.72L212.30,311.42L212.40,311.12L212.50,310.82L212.60,310.51L212.70,310.21L212.80,309.91L212.90,309.60L213.00,309.30L213.10,308.99L213.20,308.69L213.30,308.38L213.40,308.08L213.50,307.77L213.60,307.47L213.70,307.16L213.80,306.85L213.90,306.55L214.00,306.24L214.10,305.93L214.20,305.62L214.30,305.31L214.40,305.01L214.50,304.70L214.60,304.39L214.70,304.08L214.80,303.77L214.90,303.46L215.00,303.15L215.10,302.84L215.20,302.53L215.30,302.22L215.40,301.91L215.50,301.60L215.60,301.28L215.70,300.97L215.80,300.66L215.90,300.35L216.00,300.04L216.10,299.72L216.20,299.41L216.30,299.10L216.40,298.78L216.50,298.47L216.60,298.15L216.70,297.84L216.80,297.52L216.90,297.21L217.00,296.89L217.10,296.58L217.20,296.26L217.30,295.95L217.40,295.63L217.50,295.32L217.60,295.00L217.70,294.68L217.80,294.37L217.90,294.05L218.00,293.73L218.10,293.42L218.20,293.10L218.30,292.78L218.40,292.47L218.50,292.15L218.60,291.83L218.70,291.51L218.80,291.20L218.90,290.88L219.00,290.56L219.10,290.24L219.20,289.92L219.30,289.61L219.40,289.29L219.50,288.97L219.60,288.65L219.70,288.33L219.80,288.01L219.90,287.70L220.00,287.38L220.10,287.06L220.20,286.74L220.30,286.42L220.40,286.10L220.50,285.78L220.60,285.47L220.70,285.15L220.80,284.83L220.90,284.51L221.00,284.19L221.10,283.87L221.20,283.55L221.30,283.24L221.40,282.92L221.50,282.60L221.60,282.28L221.70,281.96L221.80,281.64L221.90,281.32L222.00,281.00L222.10,280.68L222.20,280.36L222.30,280.05L222.40,279.73L222.50,279.41L222.60,279.09L222.70,278.77L222.80,278.45L222.90,278.13L223.00,277.81L223.10,277.49L223.20,277.17L223.30,276.86L223.40,276.54L223.50,276.22L223.60,275.90L223.70,275.58L223.80,275.26L223.90,274.94L224.00,274.63L224.10,274.31L224.20,273.99L224.30,273.67L224.40,273.35L224.50,273.03L224.60,272.72L224.70,272.40L224.80,272.08L224.90,271.76L225.00,271.45L225.10,271.13L225.20,270.81L225.30,270.49L225.40,270.18L225.50,269.86L225.60,269.54L225.70,269.23L225.80,268.91L225.90,268.59L226.00,268.28L226.10,267.96L226.20,267.65L226.30,267.33L226.40,267.01L226.50,266.70L226.60,266.38L226.70,266.07L226.80,265.75L226.90,265.44L227.00,265.13L227.10,264.81L227.20,264.50L227.30,264.18L227.40,263.87L227.50,263.56L227.60,263.24L227.70,262.93L227.80,262.62L227.90,262.30L228.00,261.99L228.10,261.68L228.20,261.37L228.30,261.05L228.40,260.74L228.50,260.43L228.60,260.12L228.70,259.80L228.80,259.49L228.90,259.18L229.00,258.87L229.10,258.56L229.20,258.25L229.30,257.94L229.40,257.63L229.50,257.32L229.60,257.01L229.70,256.70L229.80,256.39L229.90,256.08L230.00,255.77L230.10,255.46L230.20,255.15L230.30,254.85L230.40,254.54L230.50,254.23L230.60,253.92L230.70,253.62L230.80,253.31L230.90,253.00L231.00,252.70L231.10,252.39L231.20,252.08L231.30,251.78L231.40,251.47L231.50,251.17L231.60,250.86L231.70,250.56L231.80,250.25L231.90,249.95L232.00,249.65L232.10,249.34L232.20,249.04L232.30,248.74L232.40,248.43L232.50,248.13L232.60,247.83L232.70,247.53L232.80,247.23L232.90,246.93L233.00,246.63L233.10,246.33L233.20,246.03L233.30,245.73L233.40,245.43L233.50,245.13L233.60,244.83L233.70,244.53L233.80,244.23L233.90,243.94L234.00,243.64L234.10,243.34L234.20,243.04L234.30,242.75L234.40,242.45L234.50,242.15L234.60,241.86L234.70,241.56L234.80,241.27L234.90,240.97L235.00,240.68L235.10,240.38L235.20,240.09L235.30,239.79L235.40,239.50L235.50,239.21L235.60,238.92L235.70,238.62L235.80,238.33L235.90,238.04L236.00,237.75L236.10,237.46L236.20,237.17L236.30,236.87L236.40,236.58L236.50,236.29L236.60,236.01L236.70,235.72L236.80,235.43L236.90,235.14L237.00,234.85L237.10,234.56L237.20,234.28L237.30,233.99L237.40,233.70L237.50,233.42L237.60,233.13L237.70,232.85L237.80,232.56L237.90,232.28L238.00,231.99L238.10,231.71L238.20,231.42L238.30,231.14L238.40,230.86L238.50,230.58L238.60,230.29L238.70,230.01L238.80,229.73L238.90,229.45L239.00,229.17L239.10,228.89L239.20,228.61L239.30,228.33L239.40,228.05L239.50,227.78L239.60,227.50L239.70,227.22L239.80,226.94L239.90,226.67L240.00,226.39L240.10,226.11L240.20,225.84L240.30,225.56L240.40,225.29L240.50,225.01L240.60,224.74L240.70,224.46L240.80,224.19L240.90,223.91L241.00,223.64L241.10,223.37L241.20,223.10L241.30,222.82L241.40,222.55L241.50,222.28L241.60,222.01L241.70,221.74L241.80,221.47L241.90,221.20L242.00,220.93L242.10,220.66L242.20,220.40L242.30,220.13L242.40,219.86L242.50,219.59L242.60,219.33L242.70,219.06L242.80,218.79L242.90,218.53L243.00,218.26L243.10,218.00L243.20,217.73L243.30,217.47L243.40,217.21L243.50,216.94L243.60,216.68L243.70,216.42L243.80,216.16L243.90,215.90L244.00,215.64L244.10,215.38L244.20,215.12L244.30,214.86L244.40,214.60L244.50,214.34L244.60,214.08L244.70,213.82L244.80,213.56L244.90,213.31L245.00,213.05L245.10,212.79L245.20,212.54L245.30,212.28L245.40,212.03L245.50,211.77L245.60,211.52L245.70,211.27L245.80,211.01L245.90,210.76L246.00,210.51L246.10,210.25L246.20,210.00L246.30,209.75L246.40,209.50L246.50,209.25L246.60,209.00L246.70,208.75L246.80,208.50L246.90,208.25L247.00,208.00L247.10,207.75L247.20,207.51L247.30,207.26L247.40,207.01L247.50,206.77L247.60,206.52L247.70,206.27L247.80,206.03L247.90,205.78L248.00,205.54L248.10,205.30L248.20,205.05L248.30,204.81L248.40,204.57L248.50,204.32L248.60,204.08L248.70,203.84L248.80,203.60L248.90,203.36L249.00,203.12L249.10,202.88L249.20,202.64L249.30,202.40L249.40,202.16L249.50,201.92L249.60,201.69L249.70,201.45L249.80,201.21L249.90,200.98L250.00,200.74L250.10,200.50L250.20,200.27L250.30,200.03L250.40,199.80L250.50,199.57L250.60,199.33L250.70,199.10L250.80,198.87L250.90,198.64L251.00,198.40L251.10,198.17L251.20,197.94L251.30,197.71L251.40,197.48L251.50,197.25L251.60,197.02L251.70,196.79L251.80,196.57L251.90,196.34L252.00,196.11L252.10,195.88L252.20,195.66L252.30,195.43L252.40,195.20L252.50,194.98L252.60,194.75L252.70,194.53L252.80,194.30L252.90,194.08L253.00,193.86L253.10,193.63L253.20,193.41L253.30,193.19L253.40,192.97L253.50,192.74L253.60,192.52L253.70,192.30L253.80,192.08L253.90,191.86L254.00,191.64L254.10,191.42L254.20,191.21L254.30,190.99L254.40,190.77L254.50,190.55L254.60,190.33L254.70,190.12L254.80,189.90L254.90,189.69L255.00,189.47L255.10,189.26L255.20,189.04L255.30,188.83L255.40,188.61L255.50,188.40L255.60,188.19L255.70,187.97L255.80,187.76L255.90,187.55L256.00,187.34L256.10,187.13L256.20,186.92L256.30,186.71L256.40,186.50L256.50,186.29L256.60,186.08L256.70,185.87L256.80,185.66L256.90,185.46L257.00,185.25L257.10,185.04L257.20,184.83L257.30,184.63L257.40,184.42L257.50,184.22L257.60,184.01L257.70,183.81L257.80,183.60L257.90,183.40L258.00,183.20L258.10,182.99L258.20,182.79L258.30,182.59L258.40,182.39L258.50,182.19L258.60,181.99L258.70,181.78L258.80,181.58L258.90,181.38L259.00,181.18L259.10,180.99L259.20,180.79L259.30,180.59L259.40,180.39L259.50,180.19L259.60,180.00L259.70,179.80L259.80,179.60L259.90,179.41L260.00,179.21L260.10,179.02L260.20,178.82L260.30,178.63L260.40,178.43L260.50,178.24L260.60,178.04L260.70,177.85L260.80,177.66L260.90,177.47L261.00,177.27L261.10,177.08L261.20,176.89L261.30,176.70L261.40,176.51L261.50,176.32L261.60,176.13L261.70,175.94L261.80,175.75L261.90,175.56L262.00,175.37L262.10,175.19L262.20,175.00L262.30,174.81L262.40,174.62L262.50,174.44L262.60,174.25L262.70,174.07L262.80,173.88L262.90,173.70L263.00,173.51L263.10,173.33L263.20,173.14L263.30,172.96L263.40,172.78L263.50,172.59L263.60,172.41L263.70,172.23L263.80,172.05L263.90,171.87L264.00,171.68L264.10,171.50L264.20,171.32L264.30,171.14L264.40,170.96L264.50,170.78L264.60,170.60L264.70,170.43L264.80,170.25L264.90,170.07L265.00,169.89L265.10,169.72L265.20,169.54L265.30,169.36L265.40,169.19L265.50,169.01L265.60,168.83L265.70,168.66L265.80,168.48L265.90,168.31L266.00,168.14L266.10,167.96L266.20,167.79L266.30,167.61L266.40,167.44L266.50,167.27L266.60,167.10L266.70,166.92L266.80,166.75L266.90,166.58L267.00,166.41L267.10,166.24L267.20,166.07L267.30,165.90L267.40,165.73L267.50,165.56L267.60,165.39L267.70,165.22L267.80,165.05L267.90,164.89L268.00,164.72L268.10,164.55L268.20,164.38L268.30,164.22L268.40,164.05L268.50,163.88L268.60,163.72L268.70,163.55L268.80,163.39L268.90,163.22L269.00,163.06L269.10,162.89L269.20,162.73L269.30,162.56L269.40,162.40L269.50,162.24L269.60,162.07L269.70,161.91L269.80,161.75L269.90,161.59L270.00,161.43L270.10,161.26L270.20,161.10L270.30,160.94L270.40,160.78L270.50,160.62L270.60,160.46L270.70,160.30L270.80,160.14L270.90,159.99L271.00,159.83L271.10,159.67L271.20,159.51L271.30,159.35L271.40,159.20L271.50,159.04L271.60,158.88L271.70,158.73L271.80,158.57L271.90,158.41L272.00,158.26L272.10,158.10L272.20,157.95L272.30,157.79L272.40,157.64L272.50,157.48L272.60,157.33L272.70,157.18L272.80,157.02L272.90,156.87L273.00,156.72L273.10,156.56L273.20,156.41L273.30,156.26L273.40,156.11L273.50,155.95L273.60,155.80L273.70,155.65L273.80,155.50L273.90,155.35L274.00,155.20L274.10,155.05L274.20,154.90L274.30,154.75L274.40,154.60L274.50,154.45L274.60,154.30L274.70,154.15L274.80,154.00L274.90,153.86L275.00,153.71L275.10,153.56L275.20,153.41L275.30,153.26L275.40,153.12L275.50,152.97L275.60,152.82L275.70,152.68L275.80,152.53L275.90,152.39L276.00,152.24L276.10,152.10L276.20,151.95L276.30,151.81L276.40,151.66L276.50,151.52L276.60,151.37L276.70,151.23L276.80,151.09L276.90,150.94L277.00,150.80L277.10,150.66L277.20,150.52L277.30,150.37L277.40,150.23L277.50,150.09L277.60,149.95L277.70,149.81L277.80,149.67L277.90,149.53L278.00,149.39L278.10,149.25L278.20,149.11L278.30,148.97L278.40,148.83L278.50,148.69L278.60,148.55L278.70,148.41L278.80,148.27L278.90,148.13L279.00,147.99L279.10,147.86L279.20,147.72L279.30,147.58L279.40,147.44L279.50,147.30L279.60,147.17L279.70,147.03L279.80,146.89L279.90,146.76L280.00,146.62L280.10,146.48L280.20,146.35L280.30,146.21L280.40,146.08L280.50,145.94L280.60,145.80L280.70,145.67L280.80,145.53L280.90,145.40L281.00,145.26L281.10,145.13L281.20,144.99L281.30,144.86L281.40,144.73L281.50,144.59L281.60,144.46L281.70,144.32L281.80,144.19L281.90,144.06L282.00,143.93L282.10,143.79L282.20,143.66L282.30,143.53L282.40,143.39L282.50,143.26L282.60,143.13L282.70,143.00L282.80,142.87L282.90,142.74L283.00,142.60L283.10,142.47L283.20,142.34L283.30,142.21L283.40,142.08L283.50,141.95L283.60,141.82L283.70,141.69L283.80,141.56L283.90,141.43L284.00,141.30L284.10,141.17L284.20,141.05L284.30,140.92L284.40,140.79L284.50,140.66L284.60,140.53L284.70,140.40L284.80,140.28L284.90,140.15L285.00,140.02L285.10,139.89L285.20,139.77L285.30,139.64L285.40,139.51L285.50,139.39L285.60,139.26L285.70,139.13L285.80,139.01L285.90,138.88L286.00,138.76L286.10,138.63L286.20,138.51L286.30,138.38L286.40,138.26L286.50,138.13L286.60,138.01L286.70,137.88L286.80,137.76L286.90,137.64L287.00,137.51L287.10,137.39L287.20,137.27L287.30,137.14L287.35,137.08" stroke="#5604ac" stroke-width="2.7"/>
<path d="M85.25,205.58L85.65,360.55" stroke="#e10000" stroke-width="3.55"/>
<path d="M85.65,360.85L85.75,360.35L85.85,358.88L85.95,356.49L86.05,353.24L86.15,349.19L86.25,344.40L86.35,338.94L86.45,332.88L86.55,326.27L86.65,319.20L86.75,311.72L86.85,303.90L86.95,295.79L87.05,287.43L87.15,278.88L87.25,270.21L87.35,261.48L87.45,252.75L87.55,244.09L87.65,235.56L87.75,227.19L87.85,219.05L87.95,210.88L88.05,202.54L88.15,194.20L88.25,186.07L88.35,178.31L88.45,171.09L88.55,164.56L88.65,158.84L88.75,154.04L88.85,150.28L88.95,147.20L89.05,144.38L89.15,141.81L89.25,139.44L89.35,137.27L89.45,135.27L89.55,133.41L89.65,131.68L89.75,130.06L89.85,128.52L89.95,127.06L90.05,125.65L90.15,124.27L90.25,122.92L90.35,121.57L90.45,120.22L90.55,118.87L90.65,117.55L90.75,116.26L90.85,115.00L90.95,113.78L91.05,112.58L91.15,111.41L91.25,110.27L91.35,109.16L91.45,108.08L91.55,107.02L91.65,105.99L91.75,104.98L91.85,104.00L91.95,103.04L92.05,102.11L92.15,101.20L92.25,100.32L92.35,99.45L92.45,98.61L92.55,97.80L92.65,97.00L92.75,96.22L92.85,95.47L92.95,94.73L93.05,94.01L93.15,93.32L93.25,92.64L93.35,91.98L93.45,91.34L93.55,90.71L93.65,90.11L93.75,89.52L93.85,88.94L93.95,88.39L94.05,87.84L94.15,87.32L94.25,86.81L94.35,86.32L94.45,85.84L94.55,85.37L94.65,84.92L94.75,84.49L94.85,84.07L94.95,83.66L95.05,83.26L95.15,82.88L95.25,82.51L95.35,82.16L95.45,81.82L95.55,81.49L95.65,81.17L95.75,80.87L95.85,80.58L95.95,80.30L96.05,80.03L96.15,79.78L96.25,79.54L96.35,79.31L96.45,79.09L96.55,78.88L96.65,78.69L96.75,78.51L96.85,78.34L96.95,78.18L97.05,78.03L97.15,77.90L97.25,77.78L97.35,77.67L97.45,77.57L97.55,77.49L97.65,77.42L97.75,77.36L97.85,77.31L97.95,77.28L98.05,77.26L98.15,77.25L98.25,77.26L98.35,77.28L98.45,77.31L98.55,77.36L98.65,77.42L98.75,77.49L98.85,77.58L98.95,77.68L99.05,77.79L99.15,77.92L99.25,78.05L99.35,78.21L99.45,78.37L99.55,78.55L99.65,78.74L99.75,78.94L99.85,79.16L99.95,79.38L100.05,79.62L100.15,79.87L100.25,80.14L100.35,80.42L100.45,80.71L100.55,81.01L100.65,81.32L100.75,81.64L100.85,81.98L100.95,82.33L101.05,82.69L101.15,83.06L101.25,83.45L101.35,83.84L101.45,84.25L101.55,84.67L101.65,85.10L101.75,85.54L101.85,85.99L101.95,86.45L102.05,86.93L102.15,87.41L102.25,87.91L102.35,88.42L102.45,88.93L102.55,89.46L102.65,90.00L102.75,90.55L102.85,91.11L102.95,91.68L103.05,92.26L103.15,92.85L103.25,93.45L103.35,94.06L103.45,94.68L103.55,95.32L103.65,95.96L103.75,96.61L103.85,97.27L103.95,97.94L104.05,98.62L104.15,99.31L104.25,100.00L104.35,100.71L104.45,101.43L104.55,102.15L104.65,102.89L104.75,103.63L104.85,104.39L104.95,105.15L105.05,105.92L105.15,106.70L105.25,107.48L105.35,108.28L105.45,109.09L105.55,109.90L105.65,110.72L105.75,111.55L105.85,112.39L105.95,113.23L106.05,114.09L106.15,114.95L106.25,115.82L106.35,116.70L106.45,117.58L106.55,118.47L106.65,119.37L106.75,120.28L106.85,121.19L106.95,122.12L107.05,123.04L107.15,123.98L107.25,124.92L107.35,125.87L107.45,126.83L107.55,127.79L107.65,128.77L107.75,129.74L107.85,130.73L107.95,131.72L108.05,132.71L108.15,133.71L108.25,134.72L108.35,135.74L108.45,136.76L108.55,137.79L108.65,138.82L108.75,139.86L108.85,140.90L108.95,141.95L109.05,143.01L109.15,144.07L109.25,145.13L109.35,146.21L109.45,147.28L109.55,148.37L109.65,149.45L109.75,150.54L109.85,151.64L109.95,152.74L110.05,153.85L110.15,154.96L110.25,156.08L110.35,157.20L110.45,158.32L110.55,159.45L110.65,160.59L110.75,161.72L110.85,162.87L110.95,164.01L111.05,165.16L111.15,166.32L111.25,167.47L111.35,168.63L111.45,169.80L111.55,170.97L111.65,172.14L111.75,173.31L111.85,174.49L111.95,175.68L112.05,176.86L112.15,178.05L112.25,179.24L112.35,180.43L112.45,181.63L112.55,182.83L112.65,184.03L112.75,185.24L112.85,186.44L112.95,187.65L113.05,188.86L113.15,190.08L113.25,191.29L113.35,192.51L113.45,193.73L113.55,194.95L113.65,196.18L113.75,197.40L113.85,198.63L113.95,199.86L114.05,201.09L114.15,202.32L114.25,203.56L114.35,204.79L114.45,206.03L114.55,207.26L114.65,208.50L114.75,209.74L114.85,210.98L114.95,212.22L115.05,213.46L115.15,214.70L115.25,215.94L115.35,217.19L115.45,218.43L115.55,219.67L115.65,220.92L115.75,222.16L115.85,223.41L115.95,224.66L116.05,225.91L116.15,227.16L116.25,228.42L116.35,229.67L116.45,230.93L116.55,232.18L116.65,233.44L116.75,234.70L116.85,235.95L116.95,237.21L117.05,238.47L117.15,239.72L117.25,240.98L117.35,242.23L117.45,243.49L117.55,244.74L117.65,246.00L117.75,247.25L117.85,248.50L117.95,249.75L118.05,251.00L118.15,252.24L118.25,253.49L118.35,254.73L118.45,255.97L118.55,257.21L118.65,258.44L118.75,259.68L118.85,260.91L118.95,262.14L119.05,263.36L119.15,264.58L119.25,265.80L119.35,267.02L119.45,268.23L119.55,269.44L119.65,270.64L119.75,271.84L119.85,273.04L119.95,274.23L120.05,275.42L120.15,276.60L120.25,277.78L120.35,278.95L120.45,280.12L120.55,281.28L120.65,282.44L120.75,283.59L120.85,284.74L120.95,285.88L121.05,287.02L121.15,288.15L121.25,289.28L121.35,290.39L121.45,291.51L121.55,292.61L121.65,293.71L121.75,294.81L121.85,295.89L121.95,296.97L122.05,298.05L122.15,299.11L122.25,300.17L122.35,301.22L122.45,302.27L122.55,303.31L122.65,304.33L122.75,305.36L122.85,306.37L122.95,307.38L123.05,308.38L123.15,309.37L123.25,310.35L123.35,311.32L123.45,312.29L123.55,313.25L123.65,314.19L123.75,315.13L123.85,316.07L123.95,316.99L124.05,317.90L124.15,318.81L124.25,319.70L124.35,320.59L124.45,321.47L124.55,322.34L124.65,323.20L124.75,324.05L124.85,324.89L124.95,325.72L125.05,326.55L125.15,327.36L125.25,328.16L125.35,328.96L125.45,329.74L125.55,330.51L125.65,331.28L125.75,332.03L125.85,332.78L125.95,333.51L126.05,334.24L126.15,334.95L126.25,335.66L126.35,336.35L126.45,337.04L126.55,337.71L126.65,338.38L126.75,339.03L126.85,339.68L126.95,340.31L127.05,340.93L127.15,341.55L127.25,342.15L127.35,342.75L127.45,343.33L127.55,343.90L127.65,344.47L127.75,345.02L127.85,345.56L127.95,346.10L128.05,346.62L128.15,347.13L128.25,347.63L128.35,348.12L128.45,348.61L128.55,349.08L128.65,349.54L128.75,349.99L128.85,350.43L128.95,350.86L129.05,351.29L129.15,351.70L129.25,352.10L129.35,352.49L129.45,352.87L129.55,353.25L129.65,353.61L129.75,353.96L129.85,354.31L129.95,354.64L130.05,354.96L130.15,355.28L130.25,355.58L130.35,355.88L130.45,356.16L130.55,356.44L130.65,356.71L130.75,356.97L130.85,357.22L130.95,357.46L131.05,357.69L131.15,357.91L131.25,358.13L131.35,358.33L131.45,358.53L131.55,358.72L131.65,358.89L131.75,359.06L131.85,359.23L131.95,359.38L132.05,359.53L132.15,359.66L132.25,359.79L132.35,359.92L132.45,360.03L132.55,360.14L132.65,360.23L132.75,360.32L132.85,360.41L132.95,360.48L133.05,360.55L133.15,360.61L133.25,360.67L133.35,360.71L133.45,360.75L133.55,360.78L133.65,360.81L133.75,360.83L133.85,360.84L133.95,360.85L134.05,360.85L134.15,360.84L134.25,360.83L134.35,360.81L134.45,360.79L134.55,360.75L134.65,360.72L134.75,360.67L134.85,360.62L134.95,360.57L135.05,360.51L135.15,360.44L135.25,360.36L135.35,360.28L135.45,360.19L135.55,360.10L135.65,360.00L135.75,359.90L135.85,359.79L135.95,359.67L136.05,359.55L136.15,359.42L136.25,359.29L136.35,359.15L136.45,359.00L136.55,358.85L136.65,358.69L136.75,358.53L136.85,358.36L136.95,358.18L137.05,358.00L137.15,357.82L137.25,357.62L137.35,357.43L137.45,357.22L137.55,357.02L137.65,356.80L137.75,356.58L137.85,356.36L137.95,356.13L138.05,355.89L138.15,355.65L138.25,355.40L138.35,355.15L138.45,354.89L138.55,354.63L138.65,354.36L138.75,354.09L138.85,353.81L138.95,353.53L139.05,353.24L139.15,352.95L139.25,352.65L139.35,352.35L139.45,352.04L139.55,351.73L139.65,351.41L139.75,351.08L139.85,350.76L139.95,350.42L140.05,350.09L140.15,349.74L140.25,349.40L140.35,349.05L140.45,348.69L140.55,348.33L140.65,347.96L140.75,347.59L140.85,347.22L140.95,346.84L141.05,346.46L141.15,346.07L141.25,345.68L141.35,345.28L141.45,344.88L141.55,344.48L141.65,344.07L141.75,343.66L141.85,343.24L141.95,342.82L142.05,342.39L142.15,341.97L142.25,341.53L142.35,341.10L142.45,340.65L142.55,340.21L142.65,339.76L142.75,339.31L142.85,338.85L142.95,338.39L143.05,337.93L143.15,337.46L143.25,336.99L143.35,336.52L143.45,336.04L143.55,335.56L143.65,335.07L143.75,334.58L143.85,334.09L143.95,333.60L144.05,333.10L144.15,332.60L144.25,332.09L144.35,331.59L144.45,331.08L144.55,330.56L144.65,330.05L144.75,329.53L144.85,329.00L144.95,328.48L145.05,327.95L145.15,327.42L145.25,326.88L145.35,326.34L145.45,325.81L145.55,325.26L145.65,324.72L145.75,324.17L145.85,323.62L145.95,323.07L146.05,322.51L146.15,321.95L146.25,321.39L146.35,320.83L146.45,320.26L146.55,319.70L146.65,319.13L146.75,318.56L146.85,317.98L146.95,317.41L147.05,316.83L147.15,316.25L147.25,315.67L147.35,315.08L147.45,314.49L147.55,313.91L147.65,313.32L147.75,312.72L147.85,312.13L147.95,311.54L148.05,310.94L148.15,310.34L148.25,309.74L148.35,309.14L148.45,308.53L148.55,307.93L148.65,307.32L148.75,306.71L148.85,306.10L148.95,305.49L149.05,304.88L149.15,304.27L149.25,303.65L149.35,303.04L149.45,302.42L149.55,301.80L149.65,301.18L149.75,300.56L149.85,299.94L149.95,299.32L150.05,298.69L150.15,298.07L150.25,297.44L150.35,296.82L150.45,296.19L150.55,295.56L150.65,294.93L150.75,294.30L150.85,293.67L150.95,293.04L151.05,292.41L151.15,291.78L151.25,291.15L151.35,290.51L151.45,289.88L151.55,289.25L151.65,288.61L151.75,287.98L151.85,287.34L151.95,286.71L152.05,286.07L152.15,285.44L152.25,284.80L152.35,284.16L152.45,283.53L152.55,282.89L152.65,282.25L152.75,281.62L152.85,280.98L152.95,280.34L153.05,279.71L153.15,279.07L153.25,278.43L153.35,277.80L153.45,277.16L153.55,276.52L153.65,275.89L153.75,275.25L153.85,274.62L153.95,273.98L154.05,273.35L154.15,272.71L154.25,272.08L154.35,271.45L154.45,270.81L154.55,270.18L154.65,269.55L154.75,268.92L154.85,268.29L154.95,267.66L155.05,267.03L155.15,266.40L155.25,265.77L155.35,265.14L155.45,264.52L155.55,263.89L155.65,263.27L155.75,262.64L155.85,262.02L155.95,261.40L156.05,260.77L156.15,260.15L156.25,259.53L156.35,258.92L156.45,258.30L156.55,257.68L156.65,257.07L156.75,256.45L156.85,255.84L156.95,255.22L157.05,254.61L157.15,254.00L157.25,253.39L157.35,252.79L157.45,252.18L157.55,251.58L157.65,250.97L157.75,250.37L157.85,249.77L157.95,249.17L158.05,248.57L158.15,247.97L158.25,247.38L158.35,246.78L158.45,246.19L158.55,245.60L158.65,245.01L158.75,244.42L158.85,243.83L158.95,243.25L159.05,242.66L159.15,242.08L159.25,241.50L159.35,240.92L159.45,240.34L159.55,239.77L159.65,239.20L159.75,238.62L159.85,238.05L159.95,237.48L160.05,236.92L160.15,236.35L160.25,235.79L160.35,235.23L160.45,234.67L160.55,234.11L160.65,233.55L160.75,233.00L160.85,232.45L160.95,231.90L161.05,231.35L161.15,230.80L161.25,230.26L161.35,229.71L161.45,229.17L161.55,228.64L161.65,228.10L161.75,227.56L161.85,227.03L161.95,226.50L162.05,225.97L162.15,225.45L162.25,224.92L162.35,224.40L162.45,223.88L162.55,223.36L162.65,222.85L162.75,222.33L162.85,221.82L162.95,221.31L163.05,220.81L163.15,220.30L163.25,219.80L163.35,219.30L163.45,218.80L163.55,218.30L163.65,217.81L163.75,217.31L163.85,216.81L163.95,216.32L164.05,215.83L164.15,215.33L164.25,214.84L164.35,214.35L164.45,213.85L164.55,213.36L164.65,212.87L164.75,212.38L164.85,211.89L164.95,211.41L165.05,210.92L165.15,210.43L165.25,209.94L165.35,209.46L165.45,208.97L165.55,208.49L165.65,208.01L165.75,207.52L165.85,207.04L165.95,206.56L166.05,206.08L166.15,205.60L166.25,205.12L166.35,204.64L166.45,204.16L166.55,203.69L166.65,203.21L166.75,202.73L166.85,202.26L166.95,201.79L167.05,201.31L167.15,200.84L167.25,200.37L167.35,199.90L167.45,199.43L167.55,198.96L167.65,198.49L167.75,198.02L167.85,197.56L167.95,197.09L168.05,196.62L168.15,196.16L168.25,195.70L168.35,195.23L168.45,194.77L168.55,194.31L168.65,193.85L168.75,193.39L168.85,192.93L168.95,192.47L169.05,192.02L169.15,191.56L169.25,191.10L169.35,190.65L169.45,190.20L169.55,189.74L169.65,189.29L169.75,188.84L169.85,188.39L169.95,187.94L170.05,187.49L170.15,187.05L170.25,186.60L170.35,186.15L170.45,185.71L170.55,185.26L170.65,184.82L170.75,184.38L170.85,183.94L170.95,183.50L171.05,183.06L171.15,182.62L171.25,182.18L171.35,181.75L171.45,181.31L171.55,180.87L171.65,180.44L171.75,180.01L171.85,179.58L171.95,179.14L172.05,178.71L172.15,178.28L172.25,177.86L172.35,177.43L172.45,177.00L172.55,176.58L172.65,176.15L172.75,175.73L172.85,175.30L172.95,174.88L173.05,174.46L173.15,174.04L173.25,173.62L173.35,173.20L173.45,172.79L173.55,172.37L173.65,171.96L173.75,171.54L173.85,171.13L173.95,170.72L174.05,170.30L174.15,169.89L174.25,169.48L174.35,169.08L174.45,168.67L174.55,168.26L174.65,167.86L174.75,167.45L174.85,167.05L174.95,166.65L175.05,166.24L175.15,165.84L175.25,165.44L175.35,165.05L175.45,164.65L175.55,164.25L175.65,163.86L175.75,163.46L175.85,163.07L175.95,162.67L176.05,162.28L176.15,161.89L176.25,161.50L176.35,161.11L176.45,160.73L176.55,160.34L176.65,159.95L176.75,159.57L176.85,159.18L176.95,158.80L177.05,158.42L177.15,158.04L177.25,157.66L177.35,157.28L177.45,156.90L177.55,156.53L177.65,156.15L177.75,155.78L177.85,155.40L177.95,155.03L178.05,154.66L178.15,154.29L178.25,153.92L178.35,153.55L178.45,153.18L178.55,152.82L178.65,152.45L178.75,152.09L178.85,151.72L178.95,151.36L179.05,151.00L179.15,150.64L179.25,150.28L179.35,149.92L179.45,149.56L179.55,149.21L179.65,148.85L179.75,148.50L179.85,148.14L179.95,147.79L180.05,147.44L180.15,147.09L180.25,146.74L180.35,146.39L180.45,146.04L180.55,145.70L180.65,145.35L180.75,145.01L180.85,144.67L180.95,144.32L181.05,143.98L181.15,143.64L181.25,143.30L181.35,142.97L181.45,142.63L181.55,142.29L181.65,141.96L181.75,141.62L181.85,141.29L181.95,140.96L182.05,140.63L182.15,140.30L182.25,139.97L182.35,139.64L182.45,139.31L182.55,138.99L182.65,138.66L182.75,138.34L182.85,138.02L182.95,137.70L183.05,137.37L183.15,137.06L183.25,136.74L183.35,136.42L183.45,136.10L183.55,135.79L183.65,135.47L183.75,135.16L183.85,134.85L183.95,134.53L184.05,134.22L184.15,133.91L184.25,133.61L184.35,133.30L184.45,132.99L184.55,132.69L184.65,132.38L184.75,132.08L184.85,131.78L184.95,131.48L185.05,131.17L185.15,130.88L185.25,130.58L185.35,130.28L185.45,129.98L185.55,129.69L185.65,129.39L185.75,129.10L185.85,128.81L185.95,128.52L186.05,128.23L186.15,127.94L186.25,127.65L186.35,127.36L186.45,127.07L186.55,126.79L186.65,126.51L186.75,126.22L186.85,125.94L186.95,125.66L187.05,125.38L187.15,125.10L187.25,124.82L187.35,124.54L187.45,124.27L187.55,123.99L187.65,123.72L187.75,123.44L187.85,123.17L187.95,122.90L188.05,122.63L188.15,122.36L188.25,122.09L188.35,121.82L188.45,121.56L188.55,121.29L188.65,121.03L188.75,120.76L188.85,120.50L188.95,120.24L189.05,119.98L189.15,119.72L189.25,119.46L189.35,119.20L189.45,118.94L189.55,118.69L189.65,118.43L189.75,118.18L189.85,117.93L189.95,117.67L190.05,117.42L190.15,117.17L190.25,116.92L190.35,116.68L190.45,116.43L190.55,116.18L190.65,115.94L190.75,115.69L190.85,115.45L190.95,115.21L191.05,114.97L191.15,114.73L191.25,114.49L191.35,114.25L191.45,114.01L191.55,113.77L191.65,113.54L191.75,113.30L191.85,113.07L191.95,112.84L192.05,112.60L192.15,112.37L192.25,112.14L192.35,111.91L192.45,111.68L192.55,111.46L192.65,111.23L192.75,111.00L192.85,110.78L192.95,110.56L193.05,110.33L193.15,110.11L193.25,109.89L193.35,109.67L193.45,109.45L193.55,109.23L193.65,109.02L193.75,108.80L193.85,108.58L193.95,108.37L194.05,108.16L194.15,107.94L194.25,107.73L194.35,107.52L194.45,107.31L194.55,107.10L194.65,106.89L194.75,106.69L194.85,106.48L194.95,106.27L195.05,106.07L195.15,105.87L195.25,105.66L195.35,105.46L195.45,105.26L195.55,105.06L195.65,104.86L195.75,104.66L195.85,104.46L195.95,104.27L196.05,104.07L196.15,103.88L196.25,103.68L196.35,103.49L196.45,103.30L196.55,103.11L196.65,102.92L196.75,102.73L196.85,102.54L196.95,102.35L197.05,102.16L197.15,101.98L197.25,101.79L197.35,101.61L197.45,101.42L197.55,101.24L197.65,101.06L197.75,100.88L197.85,100.70L197.95,100.52L198.05,100.34L198.15,100.16L198.25,99.98L198.35,99.81L198.45,99.63L198.55,99.46L198.65,99.28L198.75,99.11L198.85,98.94L198.95,98.77L199.05,98.60L199.15,98.43L199.25,98.26L199.35,98.09L199.45,97.92L199.55,97.76L199.65,97.59L199.75,97.43L199.85,97.26L199.95,97.10L200.05,96.94L200.15,96.78L200.25,96.62L200.35,96.46L200.45,96.30L200.55,96.14L200.65,95.98L200.75,95.83L200.85,95.67L200.95,95.52L201.05,95.36L201.15,95.21L201.25,95.06L201.35,94.91L201.45,94.75L201.55,94.60L201.65,94.46L201.75,94.31L201.85,94.16L201.95,94.01L202.05,93.87L202.15,93.72L202.25,93.58L202.35,93.43L202.45,93.29L202.55,93.15L202.65,93.00L202.75,92.86L202.85,92.72L202.95,92.58L203.05,92.45L203.15,92.31L203.25,92.17L203.35,92.03L203.45,91.90L203.55,91.76L203.65,91.63L203.75,91.50L203.85,91.36L203.95,91.23L204.05,91.10L204.15,90.97L204.25,90.84L204.35,90.71L204.45,90.58L204.55,90.46L204.65,90.33L204.75,90.20L204.85,90.08L204.95,89.95L205.05,89.83L205.15,89.71L205.25,89.59L205.35,89.46L205.45,89.34L205.55,89.22L205.65,89.10L205.75,88.98L205.85,88.87L205.95,88.75L206.05,88.63L206.15,88.52L206.25,88.40L206.35,88.29L206.45,88.17L206.55,88.06L206.65,87.95L206.75,87.84L206.85,87.73L206.95,87.62L207.05,87.51L207.15,87.40L207.25,87.29L207.35,87.18L207.45,87.07L207.55,86.97L207.65,86.86L207.75,86.76L207.85,86.65L207.95,86.55L208.05,86.45L208.15,86.34L208.25,86.24L208.35,86.14L208.45,86.04L208.55,85.94L208.65,85.84L208.75,85.75L208.85,85.65L208.95,85.55L209.05,85.46L209.15,85.36L209.25,85.26L209.35,85.17L209.45,85.08L209.55,84.98L209.65,84.89L209.75,84.80L209.85,84.71L209.95,84.62L210.05,84.53L210.15,84.44L210.25,84.35L210.35,84.26L210.45,84.18L210.55,84.09L210.65,84.00L210.75,83.92L210.85,83.83L210.95,83.75L211.05,83.67L211.15,83.58L211.25,83.50L211.35,83.42L211.45,83.34L211.55,83.26L211.65,83.18L211.75,83.10L211.85,83.02L211.95,82.94L212.05,82.87L212.15,82.79L212.25,82.71L212.35,82.64L212.45,82.56L212.55,82.49L212.65,82.41L212.75,82.34L212.85,82.27L212.95,82.20L213.05,82.13L213.15,82.06L213.25,81.98L213.35,81.92L213.45,81.85L213.55,81.78L213.65,81.71L213.75,81.64L213.85,81.58L213.95,81.51L214.05,81.44L214.15,81.38L214.25,81.32L214.35,81.25L214.45,81.19L214.55,81.13L214.65,81.06L214.75,81.00L214.85,80.94L214.95,80.88L215.05,80.82L215.15,80.76L215.25,80.70L215.35,80.64L215.45,80.59L215.55,80.53L215.65,80.47L215.75,80.42L215.85,80.36L215.95,80.31L216.05,80.25L216.15,80.20L216.25,80.14L216.35,80.09L216.45,80.04L216.55,79.99L216.65,79.94L216.75,79.89L216.85,79.84L216.95,79.79L217.05,79.74L217.15,79.69L217.25,79.64L217.35,79.59L217.45,79.55L217.55,79.50L217.65,79.45L217.75,79.41L217.85,79.36L217.95,79.32L218.05,79.28L218.15,79.23L218.25,79.19L218.35,79.15L218.45,79.11L218.55,79.06L218.65,79.02L218.75,78.98L218.85,78.94L218.95,78.90L219.05,78.87L219.15,78.83L219.25,78.79L219.35,78.75L219.45,78.72L219.55,78.68L219.65,78.64L219.75,78.61L219.85,78.57L219.95,78.54L220.05,78.51L220.15,78.47L220.25,78.44L220.35,78.41L220.45,78.37L220.55,78.34L220.65,78.31L220.75,78.28L220.85,78.25L220.95,78.22L221.05,78.19L221.15,78.16L221.25,78.14L221.35,78.11L221.45,78.08L221.55,78.05L221.65,78.03L221.75,78.00L221.85,77.98L221.95,77.95L222.05,77.93L222.15,77.90L222.25,77.88L222.35,77.86L222.45,77.83L222.55,77.81L222.65,77.79L222.75,77.77L222.85,77.75L222.95,77.73L223.05,77.71L223.15,77.69L223.25,77.67L223.35,77.65L223.45,77.63L223.55,77.61L223.65,77.60L223.75,77.58L223.85,77.56L223.95,77.55L224.05,77.53L224.15,77.52L224.25,77.50L224.35,77.49L224.45,77.47L224.55,77.46L224.65,77.45L224.75,77.44L224.85,77.42L224.95,77.41L225.05,77.40L225.15,77.39L225.25,77.38L225.35,77.37L225.45,77.36L225.55,77.35L225.65,77.34L225.75,77.33L225.85,77.33L225.95,77.32L226.05,77.31L226.15,77.30L226.25,77.30L226.35,77.29L226.45,77.29L226.55,77.28L226.65,77.28L226.75,77.27L226.85,77.27L226.95,77.26L227.05,77.26L227.15,77.26L227.25,77.26L227.35,77.25L227.45,77.25L227.55,77.25L227.65,77.25L227.75,77.25L227.85,77.25L227.95,77.25L228.05,77.25L228.15,77.25L228.25,77.25L228.35,77.26L228.45,77.26L228.55,77.26L228.65,77.26L228.75,77.27L228.85,77.27L228.95,77.27L229.05,77.28L229.15,77.28L229.25,77.29L229.35,77.29L229.45,77.30L229.55,77.31L229.65,77.31L229.75,77.32L229.85,77.33L229.95,77.33L230.05,77.34L230.15,77.35L230.25,77.36L230.35,77.37L230.45,77.38L230.55,77.39L230.65,77.40L230.75,77.41L230.85,77.42L230.95,77.43L231.05,77.44L231.15,77.45L231.25,77.46L231.35,77.47L231.45,77.49L231.55,77.50L231.65,77.51L231.75,77.52L231.85,77.54L231.95,77.55L232.05,77.57L232.15,77.58L232.25,77.59L232.35,77.61L232.45,77.62L232.55,77.64L232.65,77.65L232.75,77.67L232.85,77.69L232.95,77.70L233.05,77.72L233.15,77.74L233.25,77.75L233.35,77.77L233.45,77.79L233.55,77.81L233.65,77.83L233.75,77.84L233.85,77.86L233.95,77.88L234.05,77.90L234.15,77.92L234.25,77.94L234.35,77.96L234.45,77.98L234.55,78.00L234.65,78.02L234.75,78.04L234.85,78.06L234.95,78.08L235.05,78.11L235.15,78.13L235.25,78.15L235.35,78.17L235.45,78.19L235.55,78.22L235.65,78.24L235.75,78.26L235.85,78.29L235.95,78.31L236.05,78.33L236.15,78.36L236.25,78.38L236.35,78.40L236.45,78.43L236.55,78.45L236.65,78.48L236.75,78.50L236.85,78.53L236.95,78.56L237.05,78.58L237.15,78.61L237.25,78.63L237.35,78.66L237.45,78.69L237.55,78.71L237.65,78.74L237.75,78.77L237.85,78.79L237.95,78.82L238.05,78.85L238.15,78.88L238.25,78.91L238.35,78.93L238.45,78.96L238.55,78.99L238.65,79.02L238.75,79.05L238.85,79.08L238.95,79.11L239.05,79.14L239.15,79.17L239.25,79.20L239.35,79.23L239.45,79.26L239.55,79.29L239.65,79.32L239.75,79.35L239.85,79.38L239.95,79.41L240.05,79.44L240.15,79.47L240.25,79.51L240.35,79.54L240.45,79.57L240.55,79.60L240.65,79.63L240.75,79.67L240.85,79.70L240.95,79.73L241.05,79.76L241.15,79.80L241.25,79.83L241.35,79.86L241.45,79.90L241.55,79.93L241.65,79.96L241.75,80.00L241.85,80.03L241.95,80.07L242.05,80.10L242.15,80.14L242.25,80.17L242.35,80.21L242.45,80.24L242.55,80.28L242.65,80.31L242.75,80.35L242.85,80.38L242.95,80.42L243.05,80.46L243.15,80.49L243.25,80.53L243.35,80.57L243.45,80.60L243.55,80.64L243.65,80.68L243.75,80.71L243.85,80.75L243.95,80.79L244.05,80.83L244.15,80.86L244.25,80.90L244.35,80.94L244.45,80.98L244.55,81.02L244.65,81.05L244.75,81.09L244.85,81.13L244.95,81.17L245.05,81.21L245.15,81.25L245.25,81.29L245.35,81.33L245.45,81.37L245.55,81.41L245.65,81.45L245.75,81.49L245.85,81.53L245.95,81.57L246.05,81.61L246.15,81.65L246.25,81.69L246.35,81.73L246.45,81.77L246.55,81.81L246.65,81.85L246.75,81.90L246.85,81.94L246.95,81.98L247.05,82.02L247.15,82.06L247.25,82.11L247.35,82.15L247.45,82.19L247.55,82.23L247.65,82.28L247.75,82.32L247.85,82.36L247.95,82.40L248.05,82.45L248.15,82.49L248.25,82.53L248.35,82.58L248.45,82.62L248.55,82.66L248.65,82.71L248.75,82.75L248.85,82.80L248.95,82.84L249.05,82.88L249.15,82.93L249.25,82.97L249.35,83.02L249.45,83.06L249.55,83.11L249.65,83.15L249.75,83.20L249.85,83.24L249.95,83.29L250.05,83.33L250.15,83.38L250.25,83.42L250.35,83.47L250.45,83.51L250.55,83.56L250.65,83.61L250.75,83.65L250.85,83.70L250.95,83.74L251.05,83.79L251.15,83.84L251.25,83.88L251.35,83.93L251.45,83.97L251.55,84.02L251.65,84.07L251.75,84.11L251.85,84.16L251.95,84.21L252.05,84.26L252.15,84.30L252.25,84.35L252.35,84.40L252.45,84.44L252.55,84.49L252.65,84.54L252.75,84.59L252.85,84.63L252.95,84.68L253.05,84.73L253.15,84.78L253.25,84.83L253.35,84.87L253.45,84.92L253.55,84.97L253.65,85.02L253.75,85.07L253.85,85.12L253.95,85.16L254.05,85.21L254.15,85.26L254.25,85.31L254.35,85.36L254.45,85.41L254.55,85.46L254.65,85.51L254.75,85.55L254.85,85.60L254.95,85.65L255.05,85.70L255.15,85.75L255.25,85.80L255.35,85.85L255.45,85.90L255.55,85.95L255.65,86.00L255.75,86.05L255.85,86.10L255.95,86.15L256.05,86.20L256.15,86.25L256.25,86.30L256.35,86.35L256.45,86.40L256.55,86.45L256.65,86.50L256.75,86.55L256.85,86.60L256.95,86.65L257.05,86.70L257.15,86.75L257.25,86.80L257.35,86.85L257.45,86.91L257.55,86.96L257.65,87.01L257.75,87.06L257.85,87.11L257.95,87.16L258.05,87.21L258.15,87.26L258.25,87.31L258.35,87.37L258.45,87.42L258.55,87.47L258.65,87.52L258.75,87.57L258.85,87.62L258.95,87.67L259.05,87.73L259.15,87.78L259.25,87.83L259.35,87.88L259.45,87.93L259.55,87.99L259.65,88.04L259.75,88.09L259.85,88.14L259.95,88.19L260.05,88.25L260.15,88.30L260.25,88.35L260.35,88.40L260.45,88.46L260.55,88.51L260.65,88.56L260.75,88.61L260.85,88.67L260.95,88.72L261.05,88.77L261.15,88.82L261.25,88.88L261.35,88.93L261.45,88.98L261.55,89.04L261.65,89.09L261.75,89.14L261.85,89.19L261.95,89.25L262.05,89.30L262.15,89.35L262.25,89.41L262.35,89.46L262.45,89.51L262.55,89.57L262.65,89.62L262.75,89.67L262.85,89.73L262.95,89.78L263.05,89.84L263.15,89.89L263.25,89.94L263.35,90.00L263.45,90.05L263.55,90.10L263.65,90.16L263.75,90.21L263.85,90.27L263.95,90.32L264.05,90.37L264.15,90.43L264.25,90.48L264.35,90.54L264.45,90.59L264.55,90.64L264.65,90.70L264.75,90.75L264.85,90.81L264.95,90.86L265.05,90.92L265.15,90.97L265.25,91.03L265.35,91.08L265.45,91.13L265.55,91.19L265.65,91.24L265.75,91.30L265.85,91.35L265.95,91.41L266.05,91.46L266.15,91.52L266.25,91.57L266.35,91.63L266.45,91.68L266.55,91.74L266.65,91.79L266.75,91.85L266.85,91.90L266.95,91.96L267.05,92.01L267.15,92.07L267.25,92.12L267.35,92.18L267.45,92.23L267.55,92.29L267.65,92.35L267.75,92.40L267.85,92.46L267.95,92.51L268.05,92.57L268.15,92.62L268.25,92.68L268.35,92.74L268.45,92.79L268.55,92.85L268.65,92.90L268.75,92.96L268.85,93.02L268.95,93.07L269.05,93.13L269.15,93.18L269.25,93.24L269.35,93.30L269.45,93.35L269.55,93.41L269.65,93.47L269.75,93.52L269.85,93.58L269.95,93.63L270.05,93.69L270.15,93.75L270.25,93.80L270.35,93.86L270.45,93.92L270.55,93.97L270.65,94.03L270.75,94.09L270.85,94.14L270.95,94.20L271.05,94.26L271.15,94.31L271.25,94.37L271.35,94.43L271.45,94.49L271.55,94.54L271.65,94.60L271.75,94.66L271.85,94.71L271.95,94.77L272.05,94.83L272.15,94.88L272.25,94.94L272.35,95.00L272.45,95.06L272.55,95.11L272.65,95.17L272.75,95.23L272.85,95.28L272.95,95.34L273.05,95.40L273.15,95.46L273.25,95.51L273.35,95.57L273.45,95.63L273.55,95.69L273.65,95.74L273.75,95.80L273.85,95.86L273.95,95.92L274.05,95.97L274.15,96.03L274.25,96.09L274.35,96.15L274.45,96.20L274.55,96.26L274.65,96.32L274.75,96.38L274.85,96.43L274.95,96.49L275.05,96.55L275.15,96.61L275.25,96.66L275.35,96.72L275.45,96.78L275.55,96.84L275.65,96.89L275.75,96.95L275.85,97.01L275.95,97.07L276.05,97.13L276.15,97.18L276.25,97.24L276.35,97.30L276.45,97.36L276.55,97.41L276.65,97.47L276.75,97.53L276.85,97.59L276.95,97.64L277.05,97.70L277.15,97.76L277.25,97.82L277.35,97.88L277.45,97.93L277.55,97.99L277.65,98.05L277.75,98.11L277.85,98.16L277.95,98.22L278.05,98.28L278.15,98.34L278.25,98.39L278.35,98.45L278.45,98.51L278.55,98.57L278.65,98.62L278.75,98.68L278.85,98.74L278.95,98.80L279.05,98.86L279.15,98.91L279.25,98.97L279.35,99.03L279.45,99.09L279.55,99.14L279.65,99.20L279.75,99.26L279.85,99.32L279.95,99.37L280.05,99.43L280.15,99.49L280.25,99.55L280.35,99.60L280.45,99.66L280.55,99.72L280.65,99.78L280.75,99.83L280.85,99.89L280.95,99.95L281.05,100.00L281.15,100.06L281.25,100.12L281.35,100.18L281.45,100.23L281.55,100.29L281.65,100.35L281.75,100.41L281.85,100.46L281.95,100.52L282.05,100.58L282.15,100.63L282.25,100.69L282.35,100.75L282.45,100.80L282.55,100.86L282.65,100.92L282.75,100.98L282.85,101.03L282.95,101.09L283.05,101.15L283.15,101.20L283.25,101.26L283.35,101.32L283.45,101.37L283.55,101.43L283.65,101.49L283.75,101.54L283.85,101.60L283.95,101.66L284.05,101.71L284.15,101.77L284.25,101.83L284.35,101.88L284.45,101.94L284.55,101.99L284.65,102.05L284.75,102.11L284.85,102.16L284.95,102.22L285.05,102.28L285.15,102.33L285.25,102.39L285.35,102.44L285.45,102.50L285.55,102.56L285.65,102.61L285.75,102.67L285.85,102.72L285.95,102.78L286.05,102.83L286.15,102.89L286.25,102.95L286.35,103.00L286.45,103.06L286.55,103.11L286.65,103.17L286.75,103.22L286.85,103.28L286.95,103.33L287.05,103.39L287.15,103.44L287.25,103.50L287.35,103.55" stroke="#e10000" stroke-width="3.55"/>
<path d="M287.35,103.55L287.60,102.34L287.85,101.15L288.10,99.98L288.35,98.84L288.60,97.71L288.85,96.61L289.10,95.54L289.35,94.49L289.60,93.46L289.85,92.46L290.10,91.48L290.35,90.53L290.60,89.61L290.85,88.71L291.10,87.85L291.35,87.01L291.60,86.20L291.85,85.43L292.10,84.68L292.35,83.96L292.60,83.28L292.85,82.63L293.10,82.01L293.35,81.43L293.60,80.88L293.85,80.37L294.10,79.90L294.35,79.46L294.60,79.06L294.85,78.69L295.10,78.37L295.35,78.08L295.60,77.84L295.85,77.64L296.10,77.48L296.35,77.36L296.60,77.28L296.85,77.25L297.10,77.26L297.35,77.32L297.60,77.43L297.85,77.57L298.10,77.77L298.35,78.01L298.60,78.29L298.85,78.62L299.10,78.99L299.35,79.41L299.60,79.88L299.85,80.39L300.10,80.95L300.35,81.55L300.60,82.20L300.85,82.89L301.10,83.63L301.35,84.42L301.60,85.26L301.85,86.14L302.10,87.07L302.35,88.04L302.60,89.07L302.85,90.14L303.10,91.26L303.35,92.43L303.60,93.64L303.85,94.91L304.10,96.22L304.35,97.58L304.60,98.99L304.85,100.45L305.10,101.96L305.35,103.52L305.60,105.12L305.85,106.78L306.10,108.49L306.35,110.25L306.60,112.06L306.85,113.92L307.10,115.83L307.35,117.79L307.60,119.80L307.85,121.86L308.10,123.97L308.35,126.14L308.60,128.35L308.85,130.62L309.10,132.93L309.35,135.30L309.60,137.71L309.85,140.18L310.10,142.70L310.35,145.27L310.60,147.89L310.85,150.55L311.10,153.27L311.35,156.03L311.60,158.85L311.85,161.71L312.10,164.62L312.35,167.57L312.60,170.57L312.85,173.62L313.10,176.71L313.35,179.85L313.60,183.03L313.85,186.24L314.10,189.51L314.35,192.81L314.60,196.15L314.85,199.52L315.10,202.93L315.35,206.38L315.60,209.86L315.85,213.37L316.10,216.91L316.35,220.48L316.60,224.12L316.85,227.81L317.10,231.57L317.35,235.38L317.60,239.23L317.85,243.13L318.10,247.07L318.35,251.04L318.60,255.04L318.85,259.05L319.10,263.08L319.35,267.11L319.60,271.14L319.85,275.17L320.10,279.18L320.35,283.16L320.60,287.12L320.85,291.04L321.10,294.92L321.35,298.75L321.60,302.52L321.85,306.22L322.10,309.85L322.35,313.40L322.60,316.86L322.85,320.23L323.10,323.50L323.35,326.66L323.60,329.72L323.85,332.65L324.10,335.46L324.35,338.14L324.60,340.69L324.85,343.10L325.10,345.36L325.35,347.49L325.60,349.46L325.85,351.28L326.10,352.94L326.35,354.45L326.60,355.80L326.85,356.99L327.10,358.02L327.35,358.89L327.60,359.60L327.85,360.15L328.10,360.54L328.35,360.77L328.60,360.85L328.85,360.77L329.10,360.54L329.35,360.15L329.60,359.59L329.85,358.88L330.10,358.00L330.35,356.95L330.60,355.74L330.85,354.36L331.10,352.82L331.35,351.11L331.60,349.24L331.85,347.20L332.10,345.01L332.35,342.66L332.60,340.15L332.85,337.49L333.10,334.68L333.35,331.73L333.60,328.64L333.85,325.42L334.10,322.06L334.35,318.58L334.60,314.99L334.85,311.28L335.10,307.47L335.35,303.55L335.60,299.55L335.85,295.45L336.10,291.28L336.35,287.04L336.60,282.74L336.85,278.38L337.10,273.97L337.35,269.52L337.60,265.03L337.85,260.52L338.10,255.99L338.35,251.45L338.60,246.90L338.85,242.36L339.10,237.83L339.35,233.31L339.60,228.82L339.85,224.36L340.10,219.93L340.35,215.54L340.60,211.19L340.85,206.88L341.10,202.61L341.35,198.39L341.60,194.21L341.85,190.08L342.10,186.00L342.35,181.97L342.60,178.00L342.85,174.09L343.10,170.23L343.35,166.43L343.60,162.70L343.85,159.02L344.10,155.41L344.35,151.87L344.60,148.40L344.85,144.99L345.10,141.65L345.35,138.38L345.60,135.18L345.85,132.05L346.10,129.00L346.35,126.02L346.60,123.12L346.85,120.29L347.10,117.54L347.35,114.87L347.60,112.28L347.85,109.77L348.10,107.34L348.35,104.99L348.60,102.73L348.85,100.55L349.10,98.46L349.35,96.46L349.60,94.55L349.85,92.73L350.10,91.00L350.35,89.36L350.60,87.82L350.85,86.38L351.10,85.03L351.35,83.79L351.60,82.64L351.85,81.61L352.10,80.67L352.35,79.85L352.60,79.13L352.85,78.53L353.10,78.04L353.35,77.66L353.60,77.41L353.85,77.27L354.10,77.26L354.35,77.37L354.60,77.61L354.85,77.96L355.10,78.44L355.35,79.03L355.60,79.75L355.85,80.58L356.10,81.52L356.35,82.59L356.60,83.77L356.85,85.06L357.10,86.46L357.35,87.98L357.60,89.61L357.85,91.36L358.10,93.21L358.35,95.17L358.60,97.25L358.85,99.43L359.10,101.72L359.35,104.12L359.60,106.63L359.85,109.25L360.10,111.97L360.35,114.80L360.60,117.73L360.85,120.77L361.10,123.92L361.35,127.17L361.60,130.52L361.85,133.97L362.10,137.53L362.35,141.19L362.60,144.94L362.85,148.79L363.10,152.74L363.35,156.79L363.60,160.93L363.85,165.16L364.10,169.48L364.35,173.89L364.60,178.38L364.85,182.95L365.10,187.61L365.35,192.34L365.60,197.14L365.85,202.02L366.10,206.96L366.35,211.96L366.60,217.01L366.85,222.13L367.10,227.32L367.35,232.59L367.60,237.92L367.85,243.30L368.10,248.71L368.35,254.15L368.60,259.59L368.85,265.04L369.10,270.46L369.35,275.85L369.60,281.20L369.85,286.48L370.10,291.68L370.35,296.79L370.60,301.80L370.85,306.68L371.10,311.42L371.35,316.01L371.60,320.44L371.85,324.68L372.10,328.74L372.35,332.60L372.60,336.24L372.85,339.66L373.10,342.84L373.35,345.79L373.60,348.48L373.85,350.92L374.10,353.10L374.35,355.01L374.60,356.65L374.85,358.02L375.10,359.12L375.35,359.95L375.60,360.51L375.85,360.80L376.10,360.83L376.35,360.59L376.60,360.09L376.85,359.31L377.10,358.27L377.35,356.95L377.60,355.36L377.85,353.50L378.10,351.37L378.35,348.97L378.60,346.32L378.85,343.40L379.10,340.24L379.35,336.83L379.60,333.18L379.85,329.30L380.10,325.21L380.35,320.91L380.60,316.41L380.85,311.72L381.10,306.85L381.35,301.83L381.60,296.65L381.85,291.34L382.10,285.91L382.35,280.36L382.60,274.73L382.85,269.01L383.10,263.22L383.35,257.39L383.60,251.51L383.85,245.62L384.10,239.71L384.35,233.81L384.60,227.93L384.85,222.08L385.10,216.27L385.35,210.51L385.60,204.81L385.85,199.17L386.10,193.61L386.35,188.12L386.60,182.71L386.85,177.39L387.10,172.17L387.35,167.04L387.60,162.01L387.85,157.09L388.10,152.28L388.35,147.58L388.60,143.00L388.85,138.55L389.10,134.21L389.35,130.01L389.60,125.94L389.85,122.01L390.10,118.21L390.35,114.56L390.60,111.05L390.85,107.70L391.10,104.49L391.35,101.44L391.60,98.56L391.85,95.84L392.10,93.28L392.35,90.90L392.60,88.69L392.85,86.67L393.10,84.83L393.35,83.17L393.60,81.71L393.85,80.45L394.10,79.39L394.35,78.54L394.60,77.90L394.85,77.47L395.10,77.27L395.35,77.29L395.60,77.54L395.85,78.02L396.10,78.72L396.35,79.65L396.60,80.81L396.85,82.18L397.10,83.78L397.35,85.60L397.60,87.63L397.85,89.89L398.10,92.35L398.35,95.03L398.60,97.92L398.85,101.02L399.10,104.32L399.35,107.82L399.60,111.53L399.85,115.43L400.10,119.52L400.35,123.80L400.60,128.26L400.85,132.91L401.10,137.73L401.35,142.73L401.60,147.88L401.85,153.20L402.10,158.67L402.35,164.29L402.60,170.05L402.85,175.94L403.10,181.95L403.35,188.08L403.60,194.31L403.85,200.64L404.10,207.06L404.35,213.55L404.60,220.10L404.85,226.72L405.10,233.39L405.35,240.10L405.60,246.83L405.85,253.55L406.10,260.25L406.35,266.90L406.60,273.49L406.85,279.99L407.10,286.38L407.35,292.64L407.60,298.74L407.85,304.67L408.10,310.40L408.35,315.92L408.60,321.19L408.85,326.21L409.10,330.95L409.35,335.39L409.60,339.52L409.85,343.32L410.10,346.78L410.35,349.88L410.60,352.61L410.85,354.97L411.10,356.94L411.35,358.51L411.60,359.68L411.85,360.45L412.10,360.82L412.35,360.78L412.60,360.32L412.85,359.45L413.10,358.14L413.35,356.40L413.60,354.23L413.85,351.61L414.10,348.57L414.35,345.10L414.60,341.21L414.85,336.92L415.10,332.24L415.35,327.19L415.60,321.78L415.85,316.04L416.10,309.99L416.35,303.66L416.60,297.07L416.85,290.26L417.10,283.25L417.35,276.07L417.60,268.76L417.85,261.35L418.10,253.86L418.35,246.33L418.60,238.79L418.85,231.27L419.10,223.79L419.35,216.40L419.60,209.08L419.85,201.87L420.10,194.76L420.35,187.78L420.60,180.93L420.85,174.23L421.10,167.68L421.35,161.30L421.60,155.08L421.85,149.05L422.10,143.21L422.35,137.56L422.60,132.12L422.85,126.89L423.10,121.87L423.35,117.08L423.60,112.52L423.85,108.20L424.10,104.13L424.35,100.31L424.60,96.75L424.85,93.46L425.10,90.44L425.35,87.71L425.60,85.28L425.85,83.15L426.10,81.33L426.35,79.83L426.60,78.66L426.85,77.84L427.10,77.37L427.35,77.26L427.60,77.52L427.85,78.15L428.10,79.17L428.35,80.56L428.60,82.33L428.85,84.47L429.10,86.99L429.35,89.89L429.60,93.15L429.85,96.77L430.10,100.74L430.35,105.07L430.60,109.72L430.85,114.71L431.10,120.01L431.35,125.61L431.60,131.50L431.85,137.66L432.10,144.08L432.35,150.73L432.60,157.61L432.85,164.69L433.10,171.95L433.35,179.37L433.60,186.93L433.85,194.61L434.10,202.38L434.35,210.22L434.60,218.10L434.85,226.00L435.10,233.87L435.35,241.69L435.60,249.45L435.85,257.12L436.10,264.68L436.35,272.10L436.60,279.38L436.85,286.49L437.10,293.40L437.35,300.10L437.60,306.56L437.85,312.77L438.10,318.70L438.35,324.33L438.60,329.64L438.85,334.62L439.10,339.22L439.35,343.44L439.60,347.26L439.85,350.65L440.10,353.59L440.35,356.06L440.60,358.04L440.85,359.51L441.10,360.45L441.35,360.84L441.60,360.66L441.85,359.89L442.10,358.48L442.35,356.41L442.60,353.67L442.85,350.23L443.10,346.11L443.35,341.31L443.60,335.85L443.85,329.76L444.10,323.08L444.35,315.84L444.60,308.11L444.85,299.94L445.10,291.40L445.35,282.55L445.60,273.46L445.85,264.21L446.10,254.87L446.35,245.50L446.60,236.19L446.85,227.00L447.10,217.98L447.35,209.15L447.60,200.50L447.85,192.06L448.10,183.83L448.35,175.84L448.60,168.09L448.85,160.59L449.10,153.36L449.35,146.39L449.60,139.71L449.85,133.31L450.10,127.20L450.35,121.38L450.60,115.87L450.85,110.68L451.10,105.81L451.35,101.27L451.60,97.07L451.85,93.23L452.10,89.75L452.35,86.66L452.60,83.98L452.85,81.71L453.10,79.88L453.35,78.51L453.60,77.63L453.85,77.26L454.10,77.42L454.35,78.14L454.60,79.42L454.85,81.28L455.10,83.71L455.35,86.72L455.60,90.31L455.85,94.47L456.10,99.19L456.35,104.47L456.60,110.28L456.85,116.61L457.10,123.43L457.35,130.71L457.60,138.43L457.85,146.55L458.10,155.03L458.35,163.83L458.60,172.92L458.85,182.25L459.10,191.77L459.35,201.44L459.60,211.20L459.85,221.01L460.10,230.84L460.35,240.65L460.60,250.39L460.85,260.01L461.10,269.46L461.35,278.69L461.60,287.66L461.85,296.31L462.10,304.60L462.35,312.48L462.60,319.91L462.85,326.84L463.10,333.23L463.35,339.05L463.60,344.24L463.85,348.78L464.10,352.64L464.35,355.78L464.60,358.19L464.85,359.84L465.10,360.71L465.35,360.79L465.60,360.05L465.85,358.48L466.10,356.04L466.35,352.74L466.60,348.57L466.85,343.56L467.10,337.72L467.35,331.10L467.60,323.75L467.85,315.74L468.10,307.11L468.35,297.97L468.60,288.37L468.85,278.42L469.10,268.21L469.35,257.81L469.60,247.33L469.85,236.84L470.10,226.44L470.35,216.20L470.60,206.18L470.85,196.39L471.10,186.87L471.35,177.63L471.60,168.70L471.85,160.10L472.10,151.83L472.35,143.91L472.60,136.35L472.85,129.17L473.10,122.37L473.35,115.98L473.60,109.99L473.85,104.43L474.10,99.32L474.35,94.68L474.60,90.51L474.85,86.86L474.93,85.85L475.02,84.67L475.11,83.58L475.21,82.58L475.30,81.66L475.39,80.82L475.48,80.08L475.58,79.42L475.67,78.84L475.76,78.36L475.85,77.96L475.94,77.65L476.02,77.43L476.11,77.29L476.20,77.25L476.29,77.29L476.37,77.43L476.46,77.65L476.54,77.96L476.63,78.36L476.71,78.84L476.80,79.42L476.88,80.08L476.97,80.82L477.05,81.66L477.13,82.58L477.21,83.58L477.29,84.67L477.38,85.85L477.60,89.50L477.85,94.36L478.10,100.02L478.35,106.45L478.60,113.61L478.85,121.47L479.10,129.97L479.35,139.04L479.60,148.63L479.85,158.65L480.10,169.03L480.35,179.69L480.60,190.54L480.85,201.50L481.10,212.48L481.35,223.41L481.60,234.19L481.85,244.79L482.10,255.16L482.35,265.26L482.60,275.06L482.85,284.52L483.10,293.61L483.35,302.29L483.60,310.53L483.85,318.30L484.10,325.55L484.35,332.26L484.60,338.37L484.85,343.85L485.10,348.66L485.35,352.74L485.60,356.05L485.85,358.54L486.10,360.15L486.28,360.74L486.40,360.85L486.52,360.74L486.60,360.52L486.85,359.14L487.10,356.61L487.35,352.87L487.60,347.90L487.85,341.72L488.10,334.35L488.35,325.87L488.60,316.37L488.85,305.97L489.10,294.82L489.35,283.07L489.60,270.90L489.85,258.48L490.10,245.98L490.35,233.58L490.60,221.44L490.85,209.64L491.10,198.19L491.35,187.12L491.60,176.46L491.85,166.23L492.10,156.46L492.35,147.17L492.60,138.36L492.85,130.04L493.10,122.24L493.35,114.97L493.60,108.24L493.85,102.08L494.10,96.51L494.35,91.57L494.60,87.27L494.69,85.85L494.78,84.67L494.86,83.58L494.94,82.58L495.02,81.66L495.10,80.82L495.18,80.08L495.26,79.42L495.34,78.84L495.42,78.36L495.49,77.96L495.57,77.65L495.65,77.43L495.72,77.29L495.80,77.25L495.88,77.29L495.95,77.43L496.02,77.65L496.10,77.96L496.17,78.36L496.24,78.84L496.32,79.42L496.39,80.08L496.46,80.82L496.53,81.66L496.60,82.58L496.68,83.58L496.75,84.67L496.82,85.85L496.85,86.44L497.10,91.47L497.35,97.58L497.60,104.76L497.85,112.95L498.10,122.08L498.35,132.07L498.60,142.82L498.85,154.21L499.10,166.14L499.35,178.47L499.60,191.06L499.85,203.79L500.10,216.52L500.35,229.13L500.60,241.54L500.85,253.69L501.10,265.50L501.35,276.91L501.60,287.85L501.85,298.27L502.10,308.09L502.35,317.28L502.60,325.75L502.85,333.46L503.10,340.35L503.35,346.35L503.60,351.40L503.85,355.44L504.10,358.40L504.35,360.23L504.45,360.62L504.60,360.85L504.75,360.62L504.85,360.20L505.10,358.18L505.35,354.73L505.60,349.81L505.85,343.43L506.10,335.63L506.35,326.51L506.60,316.19L506.85,304.82L507.10,292.59L507.35,279.71L507.60,266.37L507.85,252.81L508.10,239.24L508.35,225.87L508.60,212.86L508.85,200.31L509.10,188.25L509.35,176.70L509.60,165.70L509.85,155.25L510.10,145.35L510.35,136.02L510.60,127.26L510.85,119.09L511.10,111.51L511.35,104.55L511.60,98.25L511.85,92.65L512.10,87.79L512.35,83.75L512.60,80.59L512.85,78.43L513.12,77.32L513.20,77.25L513.28,77.32L513.35,77.48L513.60,78.96L513.85,81.91L514.10,86.40L514.35,92.49L514.60,100.15L514.85,109.35L515.10,119.98L515.35,131.90L515.60,144.92L515.85,158.83L516.10,173.39L516.35,188.35L516.60,203.46L516.85,218.46L517.10,233.21L517.35,247.65L517.60,261.67L517.85,275.15L518.10,287.98L518.35,300.07L518.60,311.33L518.85,321.66L519.10,330.97L519.35,339.18L519.60,346.20L519.85,351.95L519.87,352.25L519.93,353.43L519.99,354.52L520.05,355.52L520.11,356.44L520.17,357.28L520.23,358.02L520.29,358.68L520.35,359.26L520.41,359.74L520.46,360.14L520.52,360.45L520.58,360.67L520.64,360.81L520.70,360.85L520.76,360.81L520.82,360.67L520.87,360.45L520.93,360.14L520.99,359.74L521.04,359.26L521.10,358.68L521.16,358.02L521.21,357.28L521.27,356.44L521.32,355.52L521.38,354.52L521.43,353.43L521.49,352.25L521.60,349.58L521.85,342.33L522.10,333.38L522.35,322.86L522.60,310.96L522.85,297.91L523.10,283.96L523.35,269.39L523.60,254.50L523.85,239.55L524.10,224.82L524.35,210.53L524.60,196.71L524.85,183.44L525.10,170.77L525.35,158.75L525.60,147.42L525.85,136.81L526.10,126.94L526.35,117.85L526.60,109.56L526.85,102.10L527.10,95.52L527.35,89.84L527.60,85.14L527.85,81.46L528.10,78.88L528.36,77.44L528.50,77.25L528.63,77.44L528.85,78.56L529.10,81.13L529.35,85.07L529.60,90.37L529.85,97.00L530.10,104.94L530.35,114.12L530.60,124.47L530.85,135.90L531.10,148.30L531.35,161.56L531.60,175.54L531.85,190.09L532.10,205.06L532.35,220.27L532.60,235.59L532.85,250.87L533.10,265.90L533.35,280.47L533.60,294.38L533.85,307.44L534.10,319.43L534.35,330.19L534.60,339.53L534.85,347.33L535.10,353.44L535.35,357.77L535.60,360.24L535.63,360.41L535.80,360.85L535.97,360.41L536.10,359.45L536.35,356.12L536.60,350.82L536.85,343.58L537.10,334.50L537.35,323.72L537.60,311.40L537.85,297.75L538.10,283.00L538.35,267.43L538.60,251.28L538.85,234.85L539.10,218.39L539.35,202.14L539.60,186.25L539.85,170.91L540.10,156.28L540.35,142.51L540.60,129.75L540.85,118.12L541.10,107.74L541.35,98.72L541.60,91.17L541.85,85.17L542.10,80.81L542.35,78.15L542.47,77.51L542.60,77.25L542.73,77.51L542.85,78.15L543.10,80.79L543.35,85.12L543.60,91.08L543.85,98.60L544.10,107.62L544.35,118.06L544.60,129.85L544.85,142.92L545.10,157.16L545.35,172.47L545.60,188.70L545.85,205.72L546.10,223.33L546.35,241.61L546.60,260.22L546.85,278.59L547.10,296.16L547.35,312.36L547.60,326.69L547.85,338.75L548.10,348.25L548.35,355.06L548.60,359.19L548.79,360.63L548.90,360.85L549.01,360.63L549.10,360.18L549.35,357.58L549.60,353.22L549.85,347.30L550.10,339.97L550.35,331.35L550.60,321.52L550.85,310.56L551.10,298.51L551.35,285.41L551.60,271.28L551.85,256.16L552.10,240.12L552.35,223.22L552.60,205.59L552.85,187.49L553.10,169.39L553.35,151.78L553.60,135.15L553.85,120.00L554.10,106.74L554.35,95.72L554.60,87.20L554.85,81.29L555.10,78.03L555.17,77.60L555.30,77.25L555.44,77.60L555.60,78.93L555.85,82.79L556.10,88.73L556.35,96.62L556.60,106.30L556.85,117.60L557.10,130.37L557.35,144.43L557.60,159.60L557.85,175.70L558.10,192.53L558.35,209.89L558.60,227.52L558.85,244.95L559.10,261.92L559.35,278.21L559.60,293.60L559.85,307.89L560.10,320.88L560.35,332.37L560.60,342.17L560.85,350.10L561.10,355.97L561.35,359.60L561.49,360.61L561.60,360.85L561.71,360.61L561.85,359.53L562.10,355.44L562.35,348.47L562.60,338.63L562.85,326.13L563.10,311.29L563.35,294.55L563.60,276.45L563.85,257.56L564.10,238.49L564.35,219.78L564.60,201.84L564.85,184.80L565.10,168.76L565.35,153.80L565.60,139.96L565.85,127.28L566.10,115.81L566.35,105.60L566.60,96.73L566.85,89.31L567.10,83.49L567.35,79.46L567.60,77.44L567.62,77.36L567.70,77.25L567.77,77.36L567.85,77.69L568.10,80.45L568.35,85.88L568.60,94.05L568.85,104.91L569.10,118.32L569.35,134.05L569.60,151.76L569.85,171.03L570.10,191.39L570.35,212.32L570.60,233.36L570.85,254.25L571.10,274.49L571.35,293.60L571.60,311.08L571.85,326.49L572.10,339.41L572.35,349.51L572.44,352.25L572.48,353.43L572.52,354.52L572.56,355.52L572.60,356.44L572.64,357.28L572.68,358.02L572.72,358.68L572.76,359.26L572.80,359.74L572.84,360.14L572.88,360.45L572.92,360.67L572.96,360.81L573.00,360.85L573.04,360.81L573.08,360.67L573.12,360.45L573.16,360.14L573.20,359.74L573.24,359.26L573.28,358.68L573.32,358.02L573.36,357.28L573.40,356.44L573.44,355.52L573.48,354.52L573.52,353.43L573.56,352.25L573.60,351.00L573.85,341.22L574.10,328.37L574.35,312.78L574.60,294.87L574.85,275.11L575.10,254.05L575.35,232.24L575.60,210.27L575.85,188.61L576.10,167.73L576.35,148.13L576.60,130.25L576.85,114.49L577.10,101.19L577.35,90.64L577.40,88.88" stroke="#0f6017" stroke-width="2.7"/>
</g>
<path d="M74.5,218.85H587.7" stroke="#000" stroke-opacity="0.37" stroke-width="1.4" fill="none"/>
<rect x="74.5" y="61.5" width="513.20" height="315.25" fill="none" stroke="#a2a2a2" stroke-width="1"/>
<path d="M102.17,376.75v-2.5M133.22,376.75v-2.5M155.24,376.75v-2.5M172.33,376.75v-4.9M186.29,376.75v-2.5M198.09,376.75v-2.5M208.31,376.75v-2.5M217.33,376.75v-2.5M225.40,376.75v-4.9M278.47,376.75v-2.5M309.52,376.75v-2.5M331.54,376.75v-2.5M348.63,376.75v-4.9M362.59,376.75v-2.5M374.39,376.75v-2.5M384.61,376.75v-2.5M393.63,376.75v-2.5M401.70,376.75v-4.9M454.77,376.75v-2.5M485.82,376.75v-2.5M507.84,376.75v-2.5M524.93,376.75v-4.9M538.89,376.75v-2.5M550.69,376.75v-2.5M560.91,376.75v-2.5M569.93,376.75v-2.5M578.00,376.75v-4.9" stroke="#3c3c3c" stroke-width="0.7" fill="none"/><path d="M74.5,375.53h2.3M74.5,361.30h3.3M74.5,347.07h2.3M74.5,332.84h2.3M74.5,318.61h2.3M74.5,304.38h2.3M74.5,290.15h3.3M74.5,275.92h2.3M74.5,261.69h2.3M74.5,247.46h2.3M74.5,233.23h2.3M74.5,219.00h3.3M74.5,204.77h2.3M74.5,190.54h2.3M74.5,176.31h2.3M74.5,162.08h2.3M74.5,147.85h3.3M74.5,133.62h2.3M74.5,119.39h2.3M74.5,105.16h2.3M74.5,90.93h2.3M74.5,76.70h3.3M74.5,62.47h2.3" stroke="#808080" stroke-width="0.7" fill="none"/>
<path d="M616.2,162.9H631.8" stroke="#082cc4" stroke-width="1.3" fill="none"/><path d="M616.2,197.7H631.8" stroke="#5604ac" stroke-width="1.3" fill="none"/><path d="M616.2,232.4H631.8" stroke="#e10000" stroke-width="1.6" fill="none"/><path d="M616.2,267.45H631.8" stroke="#0f6017" stroke-width="1.25" fill="none"/>
<g style="filter:grayscale(1)">
<g transform="translate(45.89,83.90) scale(1.0200,1.0200)"><path transform="translate(0.00,0) scale(0.009277,-0.009277)" d="M763 0H583V1147Q518 1085 412.5 1023T223 930V1104Q374 1175 487 1276T647 1472H763Z" fill="#000"/><text x="10.57" y="0" font-family="'Liberation Sans', sans-serif" font-size="19.0">.0</text></g><g transform="translate(45.89,155.05) scale(1.0200,1.0200)"><text x="0.00" y="0" font-family="'Liberation Sans', sans-serif" font-size="19.0">0.5</text></g><g transform="translate(45.89,226.20) scale(1.0200,1.0200)"><text x="0.00" y="0" font-family="'Liberation Sans', sans-serif" font-size="19.0">0.0</text></g><g transform="translate(45.89,297.35) scale(1.0200,1.0200)"><text x="0.00" y="0" font-family="'Liberation Sans', sans-serif" font-size="19.0">0.5</text></g><g transform="translate(34.11,297.85) scale(0.9700,1.0200)"><text x="0.00" y="0" font-family="'Liberation Sans', sans-serif" font-size="19.0">−</text></g><g transform="translate(45.89,368.50) scale(1.0200,1.0200)"><path transform="translate(0.00,0) scale(0.009277,-0.009277)" d="M763 0H583V1147Q518 1085 412.5 1023T223 930V1104Q374 1175 487 1276T647 1472H763Z" fill="#000"/><text x="10.57" y="0" font-family="'Liberation Sans', sans-serif" font-size="19.0">.0</text></g><g transform="translate(34.11,369.00) scale(0.9700,1.0200)"><text x="0.00" y="0" font-family="'Liberation Sans', sans-serif" font-size="19.0">−</text></g><g transform="translate(148.65,397.35) scale(1.0000,1.0200)"><text x="0.00" y="0" font-family="'Liberation Sans', sans-serif" font-size="19.0">0.005</text></g><g transform="translate(201.73,397.35) scale(1.0000,1.0200)"><text x="0.00" y="0" font-family="'Liberation Sans', sans-serif" font-size="19.0">0.0</text><path transform="translate(26.41,0) scale(0.009277,-0.009277)" d="M763 0H583V1147Q518 1085 412.5 1023T223 930V1104Q374 1175 487 1276T647 1472H763Z" fill="#000"/><text x="36.98" y="0" font-family="'Liberation Sans', sans-serif" font-size="19.0">0</text></g><g transform="translate(324.95,397.35) scale(1.0000,1.0200)"><text x="0.00" y="0" font-family="'Liberation Sans', sans-serif" font-size="19.0">0.050</text></g><g transform="translate(378.03,397.35) scale(1.0000,1.0200)"><text x="0.00" y="0" font-family="'Liberation Sans', sans-serif" font-size="19.0">0.</text><path transform="translate(15.85,0) scale(0.009277,-0.009277)" d="M763 0H583V1147Q518 1085 412.5 1023T223 930V1104Q374 1175 487 1276T647 1472H763Z" fill="#000"/><text x="26.41" y="0" font-family="'Liberation Sans', sans-serif" font-size="19.0">00</text></g><g transform="translate(501.25,397.35) scale(1.0000,1.0200)"><text x="0.00" y="0" font-family="'Liberation Sans', sans-serif" font-size="19.0">0.500</text></g><g transform="translate(572.82,397.35) scale(1.0000,1.0200)"><path transform="translate(0.00,0) scale(0.009277,-0.009277)" d="M763 0H583V1147Q518 1085 412.5 1023T223 930V1104Q374 1175 487 1276T647 1472H763Z" fill="#000"/></g><text transform="translate(166.40,25.05) scale(1.1378,1)" font-family="'Liberation Serif', serif" font-size="26.40" font-weight="bold" font-style="normal" stroke="#fff" stroke-width="0.3">Cosine hyperbolic bounce</text><text transform="translate(60.38,51.60) scale(1.1331,1)" font-family="'Liberation Serif', serif" font-size="17.60" font-weight="normal" font-style="italic" >a</text><text transform="translate(69.61,54.35) scale(1.0711,1)" font-family="'Liberation Serif', serif" font-size="12.70" font-weight="normal" font-style="italic" >bounce</text><text transform="translate(255.98,51.60) scale(1.1331,1)" font-family="'Liberation Serif', serif" font-size="17.60" font-weight="normal" font-style="italic" >a</text><text transform="translate(265.21,54.25) scale(1.0904,1)" font-family="'Liberation Serif', serif" font-size="12.70" font-weight="normal" font-style="italic" >boundary</text><text transform="translate(551.09,51.60) scale(1.1067,1)" font-family="'Liberation Serif', serif" font-size="17.60" font-weight="normal" font-style="italic" >a</text><text transform="translate(561.08,54.25) scale(1.1486,1)" font-family="'Liberation Serif', serif" font-size="12.70" font-weight="normal" font-style="italic" >present</text><text transform="translate(325.22,426.50) scale(1.0788,1)" font-family="'Liberation Serif', serif" font-size="23.00" font-weight="normal" font-style="italic" >a</text><text transform="translate(642.20,168.50) scale(1.1868,1)" font-family="'Liberation Serif', serif" font-size="14.50" font-weight="bold" font-style="normal" stroke="#fff" stroke-width="0.15">Pre Bounce Boundary</text><text transform="translate(642.20,203.30) scale(1.2136,1)" font-family="'Liberation Serif', serif" font-size="14.50" font-weight="bold" font-style="normal" stroke="#fff" stroke-width="0.15">Pre Point of bounce</text><text transform="translate(642.20,238.10) scale(1.2166,1)" font-family="'Liberation Serif', serif" font-size="14.50" font-weight="bold" font-style="normal" stroke="#fff" stroke-width="0.15">Post Point of bounce</text><text transform="translate(642.20,272.90) scale(1.1890,1)" font-family="'Liberation Serif', serif" font-size="14.50" font-weight="bold" font-style="normal" stroke="#fff" stroke-width="0.15">Post Bounce Boundary</text>
<g transform="translate(19.9,263.7) rotate(-90)"><text transform="translate(-0.92,0.00) scale(0.9641,1)" font-family="'Liberation Serif', serif" font-size="23.00" font-weight="normal" font-style="normal" >sin</text><text transform="translate(27.66,0.00) scale(1.0566,1)" font-family="'Liberation Serif', serif" font-size="23.60" font-weight="normal" font-style="normal" >2</text><text transform="translate(40.38,0.00) scale(1.0825,1)" font-family="'Liberation Serif', serif" font-size="23.00" font-weight="normal" font-style="italic" >ϕ</text><text transform="translate(52.54,3.45) scale(0.9412,1)" font-family="'Liberation Serif', serif" font-size="16.40" font-weight="bold" font-style="normal" >k</text><text transform="translate(62.78,0.00) scale(0.7834,1)" font-family="'Liberation Serif', serif" font-size="25.00" font-weight="normal" font-style="normal" >(</text><text transform="translate(70.03,0.00) scale(1.0850,1)" font-family="'Liberation Serif', serif" font-size="22.60" font-weight="normal" font-style="italic" >a</text><text transform="translate(81.58,0.00) scale(0.7993,1)" font-family="'Liberation Serif', serif" font-size="25.00" font-weight="normal" font-style="normal" >)</text></g>
</g>
</svg>
</body></html>
